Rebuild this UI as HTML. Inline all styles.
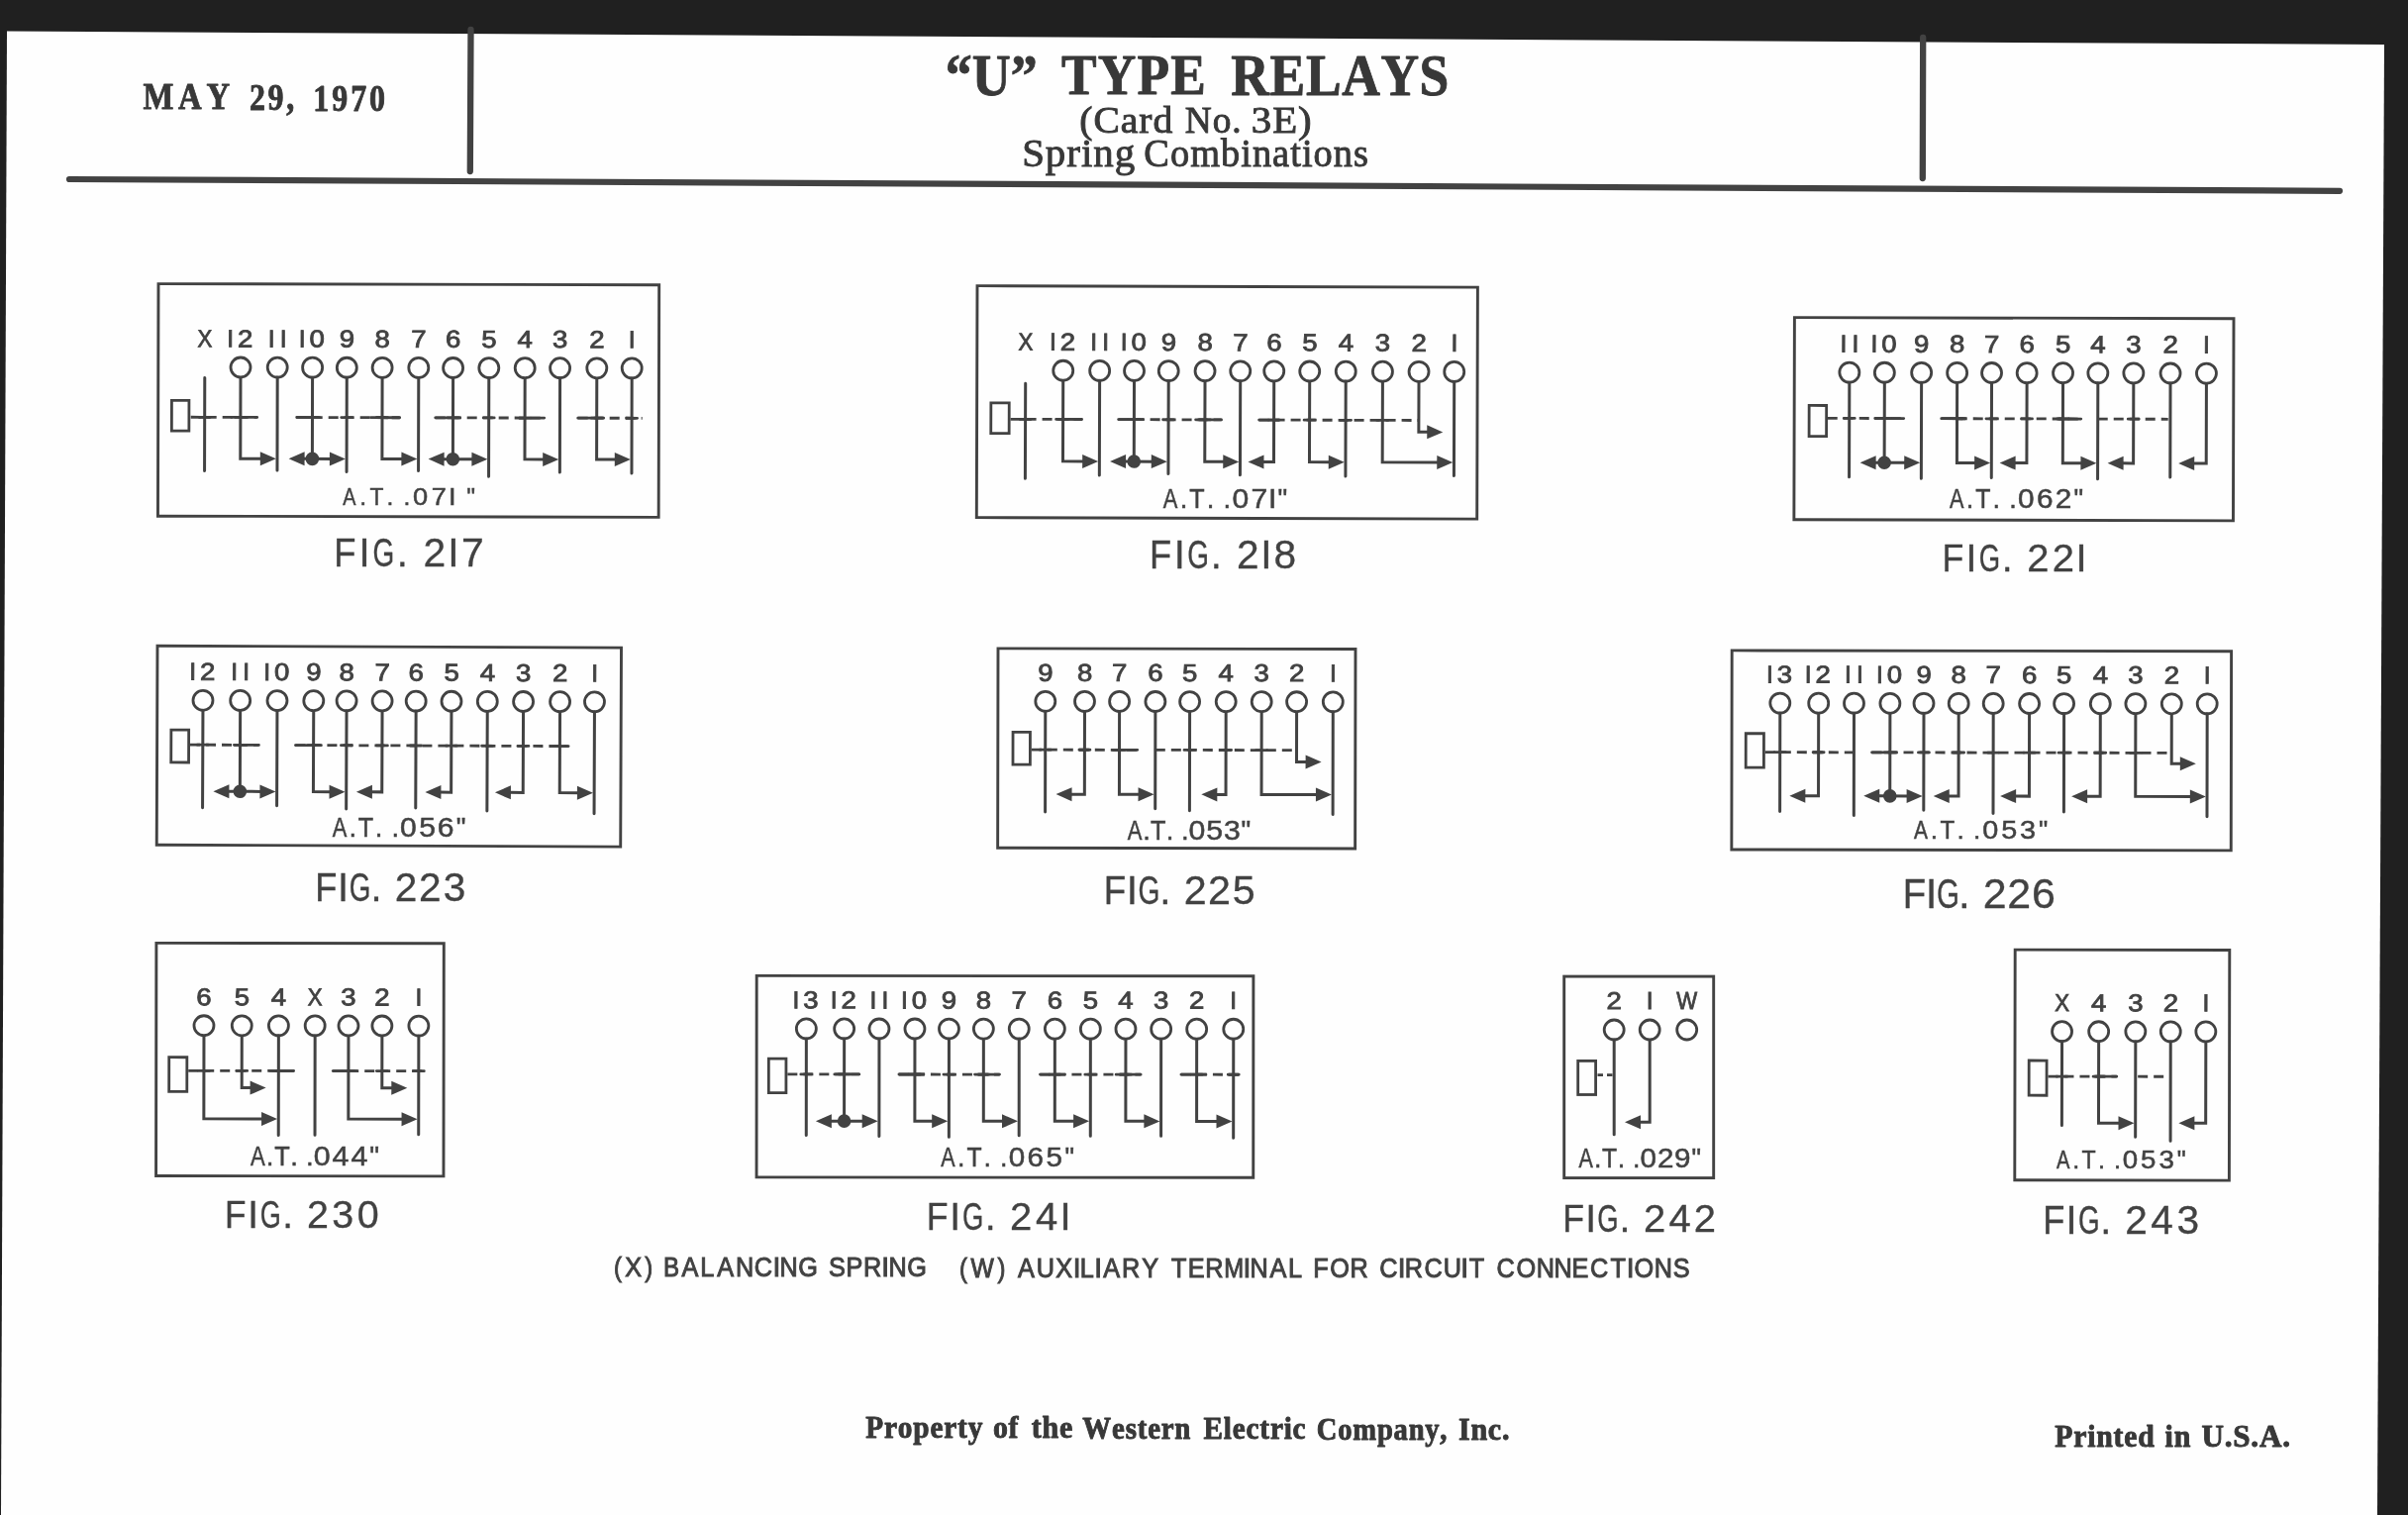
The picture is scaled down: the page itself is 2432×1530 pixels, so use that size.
<!DOCTYPE html>
<html><head><meta charset="utf-8"><title>U Type Relays Card 3E</title>
<style>html,body{margin:0;padding:0;background:#1e1e1e;width:2432px;height:1530px;overflow:hidden}svg{display:block}#pg{width:2432px;height:1530px;will-change:transform}</style>
</head><body><div id="pg">
<svg width="2432" height="1530" viewBox="0 0 2432 1530">
<rect x="0" y="0" width="2432" height="1530" fill="#202020"/>
<polygon points="7,31.5 2408,45 2401,1530 1,1530" fill="#fefefe"/>
<g stroke="#424242" fill="none">
<path d="M70 181 L2363 192.8" stroke-width="6.2" stroke-linecap="round"/>
<path d="M475.5 30 L474.8 173" stroke-width="6.3" stroke-linecap="round"/>
<path d="M1942.2 38 L1941.8 180" stroke-width="6.3" stroke-linecap="round"/>
</g>
<text transform="translate(144.43,109.80) scale(0.8500,1)" x="-0.0 42.0 75.4" y="0" font-family="Liberation Serif" font-weight="bold" font-size="38.47" fill="#383838" stroke="#383838" stroke-width="0.9" stroke-linejoin="round">MAY</text>
<text transform="translate(251.94,111.20) scale(0.8500,1)" x="-0.0 21.9 43.9" y="0" font-family="Liberation Serif" font-weight="bold" font-size="37.56" fill="#383838" stroke="#383838" stroke-width="0.9" stroke-linejoin="round">29,</text>
<text transform="translate(316.35,112.20) scale(0.8500,1)" x="0.0 22.2 44.5 66.7" y="0" font-family="Liberation Serif" font-weight="bold" font-size="37.56" fill="#383838" stroke="#383838" stroke-width="0.9" stroke-linejoin="round">1970</text>
<text transform="translate(954.74,95.60) scale(0.9200,1)" x="0.0 29.4 71.8" y="0" font-family="Liberation Serif" font-weight="bold" font-size="58.63" fill="#383838" stroke="#383838" stroke-width="0.9" stroke-linejoin="round">“U”</text>
<text transform="translate(1072.00,95.40) scale(0.9200,1)" x="-0.0 39.9 83.1 119.8" y="0" font-family="Liberation Serif" font-weight="bold" font-size="58.02" fill="#383838" stroke="#383838" stroke-width="0.9" stroke-linejoin="round">TYPE</text>
<text transform="translate(1243.36,96.00) scale(0.9200,1)" x="-0.0 42.6 82.1 121.5 164.2 206.8" y="0" font-family="Liberation Serif" font-weight="bold" font-size="58.17" fill="#383838" stroke="#383838" stroke-width="0.9" stroke-linejoin="round">RELAYS</text>
<text transform="translate(1090.22,133.50) scale(1.0651,1)" x="-0.0 13.3 39.0 56.4 69.7" y="0" font-family="Liberation Serif" font-weight="normal" font-size="37.10" fill="#383838" stroke="#383838" stroke-width="0.9">(Card</text>
<text transform="translate(1196.67,133.50) scale(1.0061,1)" x="0.0 27.8 47.3" y="0" font-family="Liberation Serif" font-weight="normal" font-size="37.10" fill="#383838" stroke="#383838" stroke-width="0.9">No.</text>
<text transform="translate(1263.76,133.50) scale(1.1014,1)" x="-0.0 19.5 43.0" y="0" font-family="Liberation Serif" font-weight="normal" font-size="37.10" fill="#383838" stroke="#383838" stroke-width="0.9">3E)</text>
<text transform="translate(1032.14,168.20) scale(1.0273,1)" x="0.0 23.1 44.0 58.3 70.3 91.2" y="0" font-family="Liberation Serif" font-weight="normal" font-size="39.85" fill="#383838" stroke="#383838" stroke-width="0.9">Spring</text>
<text transform="translate(1155.36,168.20) scale(0.9639,1)" x="-0.0 27.6 48.6 80.6 101.6 113.7 134.6 153.4 165.5 177.6 198.6 219.5" y="0" font-family="Liberation Serif" font-weight="normal" font-size="39.85" fill="#383838" stroke="#383838" stroke-width="0.9">Combinations</text>
<g transform="rotate(0.13 160 286.6)" stroke="#424242" fill="none">
<rect x="160" y="286.6" width="505.7" height="234.6" stroke-width="2.9" fill="none"/>
<rect x="173.7" y="404.4" width="17.5" height="30.6" stroke-width="2.8" fill="none"/>
<line x1="193" y1="421.2" x2="260" y2="421.2" stroke-width="2.8" stroke-dasharray="10 6"/>
<line x1="234" y1="421.2" x2="260" y2="421.2" stroke-width="2.8" stroke-linecap="round"/>
<line x1="201.5" y1="421.2" x2="212.5" y2="421.2" stroke-width="2.8" stroke-linecap="round"/>
<line x1="237.7" y1="421.2" x2="248.7" y2="421.2" stroke-width="2.8" stroke-linecap="round"/>
<line x1="300" y1="421.2" x2="404" y2="421.2" stroke-width="2.8" stroke-dasharray="10 6"/>
<line x1="300" y1="421.2" x2="323" y2="421.2" stroke-width="2.8" stroke-linecap="round"/>
<line x1="375" y1="421.2" x2="404" y2="421.2" stroke-width="2.8" stroke-linecap="round"/>
<line x1="310.3" y1="421.2" x2="321.3" y2="421.2" stroke-width="2.8" stroke-linecap="round"/>
<line x1="345" y1="421.2" x2="356" y2="421.2" stroke-width="2.8" stroke-linecap="round"/>
<line x1="380.8" y1="421.2" x2="391.8" y2="421.2" stroke-width="2.8" stroke-linecap="round"/>
<line x1="440" y1="421.2" x2="550" y2="421.2" stroke-width="2.8" stroke-dasharray="10 6"/>
<line x1="440" y1="421.2" x2="465" y2="421.2" stroke-width="2.8" stroke-linecap="round"/>
<line x1="525" y1="421.2" x2="550" y2="421.2" stroke-width="2.8" stroke-linecap="round"/>
<line x1="452.3" y1="421.2" x2="463.3" y2="421.2" stroke-width="2.8" stroke-linecap="round"/>
<line x1="488.5" y1="421.2" x2="499.5" y2="421.2" stroke-width="2.8" stroke-linecap="round"/>
<line x1="524.9" y1="421.2" x2="535.9" y2="421.2" stroke-width="2.8" stroke-linecap="round"/>
<line x1="584" y1="421.2" x2="649" y2="421.2" stroke-width="2.8" stroke-dasharray="10 6"/>
<line x1="584" y1="421.2" x2="610" y2="421.2" stroke-width="2.8" stroke-linecap="round"/>
<line x1="597.5" y1="421.2" x2="608.5" y2="421.2" stroke-width="2.8" stroke-linecap="round"/>
<line x1="632.9" y1="421.2" x2="643.9" y2="421.2" stroke-width="2.8" stroke-linecap="round"/>
<text transform="translate(207.0,350.2) scale(0.9,1)" text-anchor="middle" font-family="Liberation Sans" font-size="24.6" fill="#424242" stroke="#424242" stroke-width="0.85">X</text>
<line x1="207" y1="381.5" x2="207" y2="475.5" stroke-width="3.0" stroke-linecap="round"/>
<line x1="202" y1="421.2" x2="212" y2="421.2" stroke-width="2.8" stroke-linecap="round"/>
<text transform="translate(232.7,350.2) scale(1.0,1)" text-anchor="middle" font-family="Liberation Sans" font-size="24.6" fill="#424242" stroke="#424242" stroke-width="0.85">I</text>
<text transform="translate(247.7,350.2) scale(1.12,1)" text-anchor="middle" font-family="Liberation Sans" font-size="24.6" fill="#424242" stroke="#424242" stroke-width="0.85">2</text>
<circle cx="243.2" cy="370.8" r="10.0" stroke-width="2.8"/>
<path d="M243.2 380.8 V463 H265.4" stroke-width="3.0" fill="none" stroke-linejoin="miter"/>
<path d="M279.2 463 L263.2 456 L263.2 470 Z" fill="#424242" stroke="none"/>
<text transform="translate(274.4,350.2) scale(1.0,1)" text-anchor="middle" font-family="Liberation Sans" font-size="24.6" fill="#424242" stroke="#424242" stroke-width="0.85">I</text>
<text transform="translate(286.4,350.2) scale(1.0,1)" text-anchor="middle" font-family="Liberation Sans" font-size="24.6" fill="#424242" stroke="#424242" stroke-width="0.85">I</text>
<circle cx="280.4" cy="370.8" r="10.0" stroke-width="2.8"/>
<line x1="280.4" y1="380.8" x2="280.4" y2="474.7" stroke-width="3.0" stroke-linecap="round"/>
<text transform="translate(305.3,350.2) scale(1.0,1)" text-anchor="middle" font-family="Liberation Sans" font-size="24.6" fill="#424242" stroke="#424242" stroke-width="0.85">I</text>
<text transform="translate(320.3,350.2) scale(1.12,1)" text-anchor="middle" font-family="Liberation Sans" font-size="24.6" fill="#424242" stroke="#424242" stroke-width="0.85">0</text>
<circle cx="315.8" cy="370.8" r="10.0" stroke-width="2.8"/>
<line x1="315.8" y1="380.8" x2="315.8" y2="463" stroke-width="3.0" stroke-linecap="round"/>
<line x1="307" y1="463" x2="335.5" y2="463" stroke-width="3.0" stroke-linecap="round"/>
<path d="M292 463 L308 456 L308 470 Z" fill="#424242" stroke="none"/>
<path d="M349.3 463 L333.3 456 L333.3 470 Z" fill="#424242" stroke="none"/>
<circle cx="315.8" cy="463" r="6.8" fill="#424242" stroke="none"/>
<text transform="translate(350.5,350.2) scale(1.12,1)" text-anchor="middle" font-family="Liberation Sans" font-size="24.6" fill="#424242" stroke="#424242" stroke-width="0.85">9</text>
<circle cx="350.5" cy="370.8" r="10.0" stroke-width="2.8"/>
<line x1="350.5" y1="380.8" x2="350.5" y2="476" stroke-width="3.0" stroke-linecap="round"/>
<text transform="translate(386.3,350.2) scale(1.12,1)" text-anchor="middle" font-family="Liberation Sans" font-size="24.6" fill="#424242" stroke="#424242" stroke-width="0.85">8</text>
<circle cx="386.3" cy="370.8" r="10.0" stroke-width="2.8"/>
<path d="M386.3 380.8 V463 H408" stroke-width="3.0" fill="none" stroke-linejoin="miter"/>
<path d="M421.8 463 L405.8 456 L405.8 470 Z" fill="#424242" stroke="none"/>
<text transform="translate(423.0,350.2) scale(1.12,1)" text-anchor="middle" font-family="Liberation Sans" font-size="24.6" fill="#424242" stroke="#424242" stroke-width="0.85">7</text>
<circle cx="423" cy="370.8" r="10.0" stroke-width="2.8"/>
<line x1="423" y1="380.8" x2="423" y2="475" stroke-width="3.0" stroke-linecap="round"/>
<text transform="translate(457.8,350.2) scale(1.12,1)" text-anchor="middle" font-family="Liberation Sans" font-size="24.6" fill="#424242" stroke="#424242" stroke-width="0.85">6</text>
<circle cx="457.8" cy="370.8" r="10.0" stroke-width="2.8"/>
<line x1="457.8" y1="380.8" x2="457.8" y2="463" stroke-width="3.0" stroke-linecap="round"/>
<line x1="448" y1="463" x2="479" y2="463" stroke-width="3.0" stroke-linecap="round"/>
<path d="M433 463 L449 456 L449 470 Z" fill="#424242" stroke="none"/>
<path d="M492.8 463 L476.8 456 L476.8 470 Z" fill="#424242" stroke="none"/>
<circle cx="457.8" cy="463" r="6.8" fill="#424242" stroke="none"/>
<text transform="translate(494.0,350.2) scale(1.12,1)" text-anchor="middle" font-family="Liberation Sans" font-size="24.6" fill="#424242" stroke="#424242" stroke-width="0.85">5</text>
<circle cx="494" cy="370.8" r="10.0" stroke-width="2.8"/>
<line x1="494" y1="380.8" x2="494" y2="480.5" stroke-width="3.0" stroke-linecap="round"/>
<text transform="translate(530.4,350.2) scale(1.12,1)" text-anchor="middle" font-family="Liberation Sans" font-size="24.6" fill="#424242" stroke="#424242" stroke-width="0.85">4</text>
<circle cx="530.4" cy="370.8" r="10.0" stroke-width="2.8"/>
<path d="M530.4 380.8 V463 H550.8" stroke-width="3.0" fill="none" stroke-linejoin="miter"/>
<path d="M564.6 463 L548.6 456 L548.6 470 Z" fill="#424242" stroke="none"/>
<text transform="translate(565.8,350.2) scale(1.12,1)" text-anchor="middle" font-family="Liberation Sans" font-size="24.6" fill="#424242" stroke="#424242" stroke-width="0.85">3</text>
<circle cx="565.8" cy="370.8" r="10.0" stroke-width="2.8"/>
<line x1="565.8" y1="380.8" x2="565.8" y2="476" stroke-width="3.0" stroke-linecap="round"/>
<text transform="translate(603.0,350.2) scale(1.12,1)" text-anchor="middle" font-family="Liberation Sans" font-size="24.6" fill="#424242" stroke="#424242" stroke-width="0.85">2</text>
<circle cx="603" cy="370.8" r="10.0" stroke-width="2.8"/>
<path d="M603 380.8 V463 H623.4" stroke-width="3.0" fill="none" stroke-linejoin="miter"/>
<path d="M637.2 463 L621.2 456 L621.2 470 Z" fill="#424242" stroke="none"/>
<text transform="translate(638.4,350.2) scale(1.0,1)" text-anchor="middle" font-family="Liberation Sans" font-size="24.6" fill="#424242" stroke="#424242" stroke-width="0.85">I</text>
<circle cx="638.4" cy="370.8" r="10.0" stroke-width="2.8"/>
<line x1="638.4" y1="380.8" x2="638.4" y2="477" stroke-width="3.0" stroke-linecap="round"/>
</g>
<g font-family="Liberation Sans" font-weight="normal" font-size="24.73" fill="#424242" stroke="#424242" stroke-width="0.5">
<text transform="translate(346.35,510.20) scale(0.800,1)">A</text>
<text transform="translate(363.28,510.20) scale(1.000,1)">.</text>
<text transform="translate(373.41,510.20) scale(0.920,1)">T</text>
<text transform="translate(390.56,510.20) scale(1.000,1)">.</text>
<text transform="translate(407.38,510.20) scale(1.000,1)">.</text>
<text transform="translate(416.93,510.20) scale(1.100,1)">0</text>
<text transform="translate(435.65,510.20) scale(1.100,1)">7</text>
<text transform="translate(452.88,510.20) scale(1.100,1)">I</text>
<text transform="translate(471.27,510.20) scale(1.000,1)">"</text>
</g>
<g font-family="Liberation Sans" font-weight="normal" font-size="40.00" fill="#424242" stroke="#424242" stroke-width="0.3">
<text transform="translate(337.30,572.00) scale(0.910,1)">F</text>
<text transform="translate(362.43,572.00) scale(1.000,1)">I</text>
<text transform="translate(376.51,572.00) scale(0.700,1)">G</text>
<text transform="translate(400.66,572.00) scale(1.000,1)">.</text>
<text transform="translate(427.40,572.00) scale(1.020,1)">2</text>
<text transform="translate(452.31,572.00) scale(1.020,1)">I</text>
<text transform="translate(465.90,572.00) scale(1.020,1)">7</text>
</g>
<g transform="rotate(0.17 987 288.6)" stroke="#424242" fill="none">
<rect x="987" y="288.6" width="505.4" height="234" stroke-width="2.9" fill="none"/>
<rect x="1001.2" y="406.8" width="18.4" height="30.8" stroke-width="2.8" fill="none"/>
<line x1="1021" y1="423.2" x2="1093" y2="423.2" stroke-width="2.8" stroke-dasharray="10 6"/>
<line x1="1067" y1="423.2" x2="1093" y2="423.2" stroke-width="2.8" stroke-linecap="round"/>
<line x1="1030.5" y1="423.2" x2="1041.5" y2="423.2" stroke-width="2.8" stroke-linecap="round"/>
<line x1="1068.5" y1="423.2" x2="1079.5" y2="423.2" stroke-width="2.8" stroke-linecap="round"/>
<line x1="1130" y1="423.2" x2="1234" y2="423.2" stroke-width="2.8" stroke-dasharray="10 6"/>
<line x1="1130" y1="423.2" x2="1155" y2="423.2" stroke-width="2.8" stroke-linecap="round"/>
<line x1="1208" y1="423.2" x2="1234" y2="423.2" stroke-width="2.8" stroke-linecap="round"/>
<line x1="1140.3" y1="423.2" x2="1151.3" y2="423.2" stroke-width="2.8" stroke-linecap="round"/>
<line x1="1175" y1="423.2" x2="1186" y2="423.2" stroke-width="2.8" stroke-linecap="round"/>
<line x1="1211.8" y1="423.2" x2="1222.8" y2="423.2" stroke-width="2.8" stroke-linecap="round"/>
<line x1="1272" y1="423.2" x2="1433" y2="423.2" stroke-width="2.8" stroke-dasharray="10 6"/>
<line x1="1272" y1="423.2" x2="1292" y2="423.2" stroke-width="2.8" stroke-linecap="round"/>
<line x1="1281.5" y1="423.2" x2="1292.5" y2="423.2" stroke-width="2.8" stroke-linecap="round"/>
<line x1="1317.5" y1="423.2" x2="1328.5" y2="423.2" stroke-width="2.8" stroke-linecap="round"/>
<line x1="1354" y1="423.2" x2="1365" y2="423.2" stroke-width="2.8" stroke-linecap="round"/>
<line x1="1391.2" y1="423.2" x2="1402.2" y2="423.2" stroke-width="2.8" stroke-linecap="round"/>
<text transform="translate(1036.0,353.4) scale(0.9,1)" text-anchor="middle" font-family="Liberation Sans" font-size="24.6" fill="#424242" stroke="#424242" stroke-width="0.85">X</text>
<line x1="1036" y1="387" x2="1036" y2="483" stroke-width="3.0" stroke-linecap="round"/>
<line x1="1031" y1="423.2" x2="1041" y2="423.2" stroke-width="2.8" stroke-linecap="round"/>
<text transform="translate(1063.5,353.4) scale(1.0,1)" text-anchor="middle" font-family="Liberation Sans" font-size="24.6" fill="#424242" stroke="#424242" stroke-width="0.85">I</text>
<text transform="translate(1078.5,353.4) scale(1.12,1)" text-anchor="middle" font-family="Liberation Sans" font-size="24.6" fill="#424242" stroke="#424242" stroke-width="0.85">2</text>
<circle cx="1074" cy="374" r="10.0" stroke-width="2.8"/>
<path d="M1074 384 V465.6 H1095.9" stroke-width="3.0" fill="none" stroke-linejoin="miter"/>
<path d="M1109.7 465.6 L1093.7 458.6 L1093.7 472.6 Z" fill="#424242" stroke="none"/>
<text transform="translate(1104.9,353.4) scale(1.0,1)" text-anchor="middle" font-family="Liberation Sans" font-size="24.6" fill="#424242" stroke="#424242" stroke-width="0.85">I</text>
<text transform="translate(1116.9,353.4) scale(1.0,1)" text-anchor="middle" font-family="Liberation Sans" font-size="24.6" fill="#424242" stroke="#424242" stroke-width="0.85">I</text>
<circle cx="1110.9" cy="374" r="10.0" stroke-width="2.8"/>
<line x1="1110.9" y1="384" x2="1110.9" y2="479.7" stroke-width="3.0" stroke-linecap="round"/>
<text transform="translate(1135.3,353.4) scale(1.0,1)" text-anchor="middle" font-family="Liberation Sans" font-size="24.6" fill="#424242" stroke="#424242" stroke-width="0.85">I</text>
<text transform="translate(1150.3,353.4) scale(1.12,1)" text-anchor="middle" font-family="Liberation Sans" font-size="24.6" fill="#424242" stroke="#424242" stroke-width="0.85">0</text>
<circle cx="1145.8" cy="374" r="10.0" stroke-width="2.8"/>
<line x1="1145.8" y1="384" x2="1145.8" y2="465.6" stroke-width="3.0" stroke-linecap="round"/>
<line x1="1136.6" y1="465.6" x2="1165.5" y2="465.6" stroke-width="3.0" stroke-linecap="round"/>
<path d="M1121.6 465.6 L1137.6 458.6 L1137.6 472.6 Z" fill="#424242" stroke="none"/>
<path d="M1179.3 465.6 L1163.3 458.6 L1163.3 472.6 Z" fill="#424242" stroke="none"/>
<circle cx="1145.8" cy="465.6" r="6.8" fill="#424242" stroke="none"/>
<text transform="translate(1180.5,353.4) scale(1.12,1)" text-anchor="middle" font-family="Liberation Sans" font-size="24.6" fill="#424242" stroke="#424242" stroke-width="0.85">9</text>
<circle cx="1180.5" cy="374" r="10.0" stroke-width="2.8"/>
<line x1="1180.5" y1="384" x2="1180.5" y2="478" stroke-width="3.0" stroke-linecap="round"/>
<text transform="translate(1217.3,353.4) scale(1.12,1)" text-anchor="middle" font-family="Liberation Sans" font-size="24.6" fill="#424242" stroke="#424242" stroke-width="0.85">8</text>
<circle cx="1217.3" cy="374" r="10.0" stroke-width="2.8"/>
<path d="M1217.3 384 V465.6 H1238" stroke-width="3.0" fill="none" stroke-linejoin="miter"/>
<path d="M1251.8 465.6 L1235.8 458.6 L1235.8 472.6 Z" fill="#424242" stroke="none"/>
<text transform="translate(1253.0,353.4) scale(1.12,1)" text-anchor="middle" font-family="Liberation Sans" font-size="24.6" fill="#424242" stroke="#424242" stroke-width="0.85">7</text>
<circle cx="1253" cy="374" r="10.0" stroke-width="2.8"/>
<line x1="1253" y1="384" x2="1253" y2="479" stroke-width="3.0" stroke-linecap="round"/>
<text transform="translate(1287.0,353.4) scale(1.12,1)" text-anchor="middle" font-family="Liberation Sans" font-size="24.6" fill="#424242" stroke="#424242" stroke-width="0.85">6</text>
<circle cx="1287" cy="374" r="10.0" stroke-width="2.8"/>
<path d="M1287 384 V465.6 H1276" stroke-width="3.0" fill="none" stroke-linejoin="miter"/>
<path d="M1261 465.6 L1277 458.6 L1277 472.6 Z" fill="#424242" stroke="none"/>
<text transform="translate(1323.0,353.4) scale(1.12,1)" text-anchor="middle" font-family="Liberation Sans" font-size="24.6" fill="#424242" stroke="#424242" stroke-width="0.85">5</text>
<circle cx="1323" cy="374" r="10.0" stroke-width="2.8"/>
<path d="M1323 384 V465.6 H1344.5" stroke-width="3.0" fill="none" stroke-linejoin="miter"/>
<path d="M1358.3 465.6 L1342.3 458.6 L1342.3 472.6 Z" fill="#424242" stroke="none"/>
<text transform="translate(1359.5,353.4) scale(1.12,1)" text-anchor="middle" font-family="Liberation Sans" font-size="24.6" fill="#424242" stroke="#424242" stroke-width="0.85">4</text>
<circle cx="1359.5" cy="374" r="10.0" stroke-width="2.8"/>
<line x1="1359.5" y1="384" x2="1359.5" y2="480" stroke-width="3.0" stroke-linecap="round"/>
<text transform="translate(1396.7,353.4) scale(1.12,1)" text-anchor="middle" font-family="Liberation Sans" font-size="24.6" fill="#424242" stroke="#424242" stroke-width="0.85">3</text>
<circle cx="1396.7" cy="374" r="10.0" stroke-width="2.8"/>
<path d="M1396.7 384 V465.6 H1454" stroke-width="3.0" fill="none" stroke-linejoin="miter"/>
<path d="M1467.8 465.6 L1451.8 458.6 L1451.8 472.6 Z" fill="#424242" stroke="none"/>
<text transform="translate(1433.3,353.4) scale(1.12,1)" text-anchor="middle" font-family="Liberation Sans" font-size="24.6" fill="#424242" stroke="#424242" stroke-width="0.85">2</text>
<circle cx="1433.3" cy="374" r="10.0" stroke-width="2.8"/>
<path d="M1433.3 384 V435 H1442.7" stroke-width="3.0" fill="none" stroke-linejoin="miter"/>
<path d="M1457.7 435 L1441.7 428 L1441.7 442 Z" fill="#424242" stroke="none"/>
<text transform="translate(1469.0,353.4) scale(1.0,1)" text-anchor="middle" font-family="Liberation Sans" font-size="24.6" fill="#424242" stroke="#424242" stroke-width="0.85">I</text>
<circle cx="1469" cy="374" r="10.0" stroke-width="2.8"/>
<line x1="1469" y1="384" x2="1469" y2="479" stroke-width="3.0" stroke-linecap="round"/>
</g>
<g font-family="Liberation Sans" font-weight="normal" font-size="27.35" fill="#424242" stroke="#424242" stroke-width="0.5">
<text transform="translate(1174.65,513.30) scale(0.800,1)">A</text>
<text transform="translate(1191.74,513.30) scale(1.000,1)">.</text>
<text transform="translate(1201.31,513.30) scale(0.920,1)">T</text>
<text transform="translate(1218.64,513.30) scale(1.000,1)">.</text>
<text transform="translate(1235.62,513.30) scale(1.000,1)">.</text>
<text transform="translate(1244.55,513.30) scale(1.100,1)">0</text>
<text transform="translate(1263.62,513.30) scale(1.100,1)">7</text>
<text transform="translate(1281.04,513.30) scale(1.100,1)">I</text>
<text transform="translate(1290.45,513.30) scale(1.000,1)">"</text>
</g>
<g font-family="Liberation Sans" font-weight="normal" font-size="39.85" fill="#424242" stroke="#424242" stroke-width="0.3">
<text transform="translate(1161.11,574.40) scale(0.910,1)">F</text>
<text transform="translate(1185.65,574.40) scale(1.000,1)">I</text>
<text transform="translate(1199.18,574.40) scale(0.700,1)">G</text>
<text transform="translate(1222.75,574.40) scale(1.000,1)">.</text>
<text transform="translate(1248.89,574.40) scale(1.020,1)">2</text>
<text transform="translate(1273.22,574.40) scale(1.020,1)">I</text>
<text transform="translate(1286.57,574.40) scale(1.020,1)">8</text>
</g>
<g transform="rotate(0.15 1812.4 320.6)" stroke="#424242" fill="none">
<rect x="1812.4" y="320.6" width="443.6" height="204.1" stroke-width="2.9" fill="none"/>
<rect x="1827.4" y="409.4" width="17.5" height="31.2" stroke-width="2.8" fill="none"/>
<line x1="1846" y1="422.3" x2="1923" y2="422.3" stroke-width="2.8" stroke-dasharray="10 6"/>
<line x1="1894" y1="422.3" x2="1923" y2="422.3" stroke-width="2.8" stroke-linecap="round"/>
<line x1="1862.5" y1="422.3" x2="1873.5" y2="422.3" stroke-width="2.8" stroke-linecap="round"/>
<line x1="1898" y1="422.3" x2="1909" y2="422.3" stroke-width="2.8" stroke-linecap="round"/>
<line x1="1961" y1="422.3" x2="2102" y2="422.3" stroke-width="2.8" stroke-dasharray="10 6"/>
<line x1="1961" y1="422.3" x2="1985" y2="422.3" stroke-width="2.8" stroke-linecap="round"/>
<line x1="2080" y1="422.3" x2="2102" y2="422.3" stroke-width="2.8" stroke-linecap="round"/>
<line x1="1971.3" y1="422.3" x2="1982.3" y2="422.3" stroke-width="2.8" stroke-linecap="round"/>
<line x1="2006.2" y1="422.3" x2="2017.2" y2="422.3" stroke-width="2.8" stroke-linecap="round"/>
<line x1="2041.8" y1="422.3" x2="2052.8" y2="422.3" stroke-width="2.8" stroke-linecap="round"/>
<line x1="2078.2" y1="422.3" x2="2089.2" y2="422.3" stroke-width="2.8" stroke-linecap="round"/>
<line x1="2119" y1="422.3" x2="2190" y2="422.3" stroke-width="2.8" stroke-dasharray="10 6"/>
<line x1="2149.5" y1="422.3" x2="2160.5" y2="422.3" stroke-width="2.8" stroke-linecap="round"/>
<text transform="translate(1862.0,355.4) scale(1.0,1)" text-anchor="middle" font-family="Liberation Sans" font-size="24.6" fill="#424242" stroke="#424242" stroke-width="0.85">I</text>
<text transform="translate(1874.0,355.4) scale(1.0,1)" text-anchor="middle" font-family="Liberation Sans" font-size="24.6" fill="#424242" stroke="#424242" stroke-width="0.85">I</text>
<circle cx="1868" cy="376" r="10.0" stroke-width="2.8"/>
<line x1="1868" y1="386" x2="1868" y2="481.5" stroke-width="3.0" stroke-linecap="round"/>
<text transform="translate(1893.0,355.4) scale(1.0,1)" text-anchor="middle" font-family="Liberation Sans" font-size="24.6" fill="#424242" stroke="#424242" stroke-width="0.85">I</text>
<text transform="translate(1908.0,355.4) scale(1.12,1)" text-anchor="middle" font-family="Liberation Sans" font-size="24.6" fill="#424242" stroke="#424242" stroke-width="0.85">0</text>
<circle cx="1903.5" cy="376" r="10.0" stroke-width="2.8"/>
<line x1="1903.5" y1="386" x2="1903.5" y2="467" stroke-width="3.0" stroke-linecap="round"/>
<line x1="1894" y1="467" x2="1925.8" y2="467" stroke-width="3.0" stroke-linecap="round"/>
<path d="M1879 467 L1895 460 L1895 474 Z" fill="#424242" stroke="none"/>
<path d="M1939.6 467 L1923.6 460 L1923.6 474 Z" fill="#424242" stroke="none"/>
<circle cx="1903.5" cy="467" r="6.8" fill="#424242" stroke="none"/>
<text transform="translate(1940.8,355.4) scale(1.12,1)" text-anchor="middle" font-family="Liberation Sans" font-size="24.6" fill="#424242" stroke="#424242" stroke-width="0.85">9</text>
<circle cx="1940.8" cy="376" r="10.0" stroke-width="2.8"/>
<line x1="1940.8" y1="386" x2="1940.8" y2="483" stroke-width="3.0" stroke-linecap="round"/>
<text transform="translate(1976.8,355.4) scale(1.12,1)" text-anchor="middle" font-family="Liberation Sans" font-size="24.6" fill="#424242" stroke="#424242" stroke-width="0.85">8</text>
<circle cx="1976.8" cy="376" r="10.0" stroke-width="2.8"/>
<path d="M1976.8 386 V467 H1996.7" stroke-width="3.0" fill="none" stroke-linejoin="miter"/>
<path d="M2010.5 467 L1994.5 460 L1994.5 474 Z" fill="#424242" stroke="none"/>
<text transform="translate(2011.7,355.4) scale(1.12,1)" text-anchor="middle" font-family="Liberation Sans" font-size="24.6" fill="#424242" stroke="#424242" stroke-width="0.85">7</text>
<circle cx="2011.7" cy="376" r="10.0" stroke-width="2.8"/>
<line x1="2011.7" y1="386" x2="2011.7" y2="482" stroke-width="3.0" stroke-linecap="round"/>
<text transform="translate(2047.3,355.4) scale(1.12,1)" text-anchor="middle" font-family="Liberation Sans" font-size="24.6" fill="#424242" stroke="#424242" stroke-width="0.85">6</text>
<circle cx="2047.3" cy="376" r="10.0" stroke-width="2.8"/>
<path d="M2047.3 386 V467 H2035" stroke-width="3.0" fill="none" stroke-linejoin="miter"/>
<path d="M2020 467 L2036 460 L2036 474 Z" fill="#424242" stroke="none"/>
<text transform="translate(2083.7,355.4) scale(1.12,1)" text-anchor="middle" font-family="Liberation Sans" font-size="24.6" fill="#424242" stroke="#424242" stroke-width="0.85">5</text>
<circle cx="2083.7" cy="376" r="10.0" stroke-width="2.8"/>
<path d="M2083.7 386 V467 H2104" stroke-width="3.0" fill="none" stroke-linejoin="miter"/>
<path d="M2117.8 467 L2101.8 460 L2101.8 474 Z" fill="#424242" stroke="none"/>
<text transform="translate(2119.0,355.4) scale(1.12,1)" text-anchor="middle" font-family="Liberation Sans" font-size="24.6" fill="#424242" stroke="#424242" stroke-width="0.85">4</text>
<circle cx="2119" cy="376" r="10.0" stroke-width="2.8"/>
<line x1="2119" y1="386" x2="2119" y2="483" stroke-width="3.0" stroke-linecap="round"/>
<text transform="translate(2155.0,355.4) scale(1.12,1)" text-anchor="middle" font-family="Liberation Sans" font-size="24.6" fill="#424242" stroke="#424242" stroke-width="0.85">3</text>
<circle cx="2155" cy="376" r="10.0" stroke-width="2.8"/>
<path d="M2155 386 V467 H2144" stroke-width="3.0" fill="none" stroke-linejoin="miter"/>
<path d="M2129 467 L2145 460 L2145 474 Z" fill="#424242" stroke="none"/>
<text transform="translate(2192.2,355.4) scale(1.12,1)" text-anchor="middle" font-family="Liberation Sans" font-size="24.6" fill="#424242" stroke="#424242" stroke-width="0.85">2</text>
<circle cx="2192.2" cy="376" r="10.0" stroke-width="2.8"/>
<line x1="2192.2" y1="386" x2="2192.2" y2="481" stroke-width="3.0" stroke-linecap="round"/>
<text transform="translate(2228.6,355.4) scale(1.0,1)" text-anchor="middle" font-family="Liberation Sans" font-size="24.6" fill="#424242" stroke="#424242" stroke-width="0.85">I</text>
<circle cx="2228.6" cy="376" r="10.0" stroke-width="2.8"/>
<path d="M2228.6 386 V467 H2215.6" stroke-width="3.0" fill="none" stroke-linejoin="miter"/>
<path d="M2200.6 467 L2216.6 460 L2216.6 474 Z" fill="#424242" stroke="none"/>
</g>
<g font-family="Liberation Sans" font-weight="normal" font-size="27.05" fill="#424242" stroke="#424242" stroke-width="0.5">
<text transform="translate(1968.95,512.60) scale(0.800,1)">A</text>
<text transform="translate(1985.86,512.60) scale(1.000,1)">.</text>
<text transform="translate(1995.33,512.60) scale(0.920,1)">T</text>
<text transform="translate(2012.48,512.60) scale(1.000,1)">.</text>
<text transform="translate(2029.27,512.60) scale(1.000,1)">.</text>
<text transform="translate(2038.11,512.60) scale(1.100,1)">0</text>
<text transform="translate(2056.99,512.60) scale(1.100,1)">6</text>
<text transform="translate(2075.71,512.60) scale(1.100,1)">2</text>
<text transform="translate(2094.55,512.60) scale(1.000,1)">"</text>
</g>
<g font-family="Liberation Sans" font-weight="normal" font-size="39.27" fill="#424242" stroke="#424242" stroke-width="0.3">
<text transform="translate(1961.55,577.40) scale(0.910,1)">F</text>
<text transform="translate(1985.55,577.40) scale(1.000,1)">I</text>
<text transform="translate(1998.70,577.40) scale(0.700,1)">G</text>
<text transform="translate(2021.74,577.40) scale(1.000,1)">.</text>
<text transform="translate(2047.32,577.40) scale(1.020,1)">2</text>
<text transform="translate(2072.81,577.40) scale(1.020,1)">2</text>
<text transform="translate(2096.59,577.40) scale(1.020,1)">I</text>
</g>
<g transform="rotate(0.22 159 652.3)" stroke="#424242" fill="none">
<rect x="159" y="652.3" width="468.5" height="201" stroke-width="2.9" fill="none"/>
<rect x="173.2" y="737.1" width="17.8" height="32.8" stroke-width="2.8" fill="none"/>
<line x1="192.4" y1="752" x2="261.8" y2="752" stroke-width="2.8" stroke-dasharray="10 6"/>
<line x1="236.8" y1="752" x2="261.8" y2="752" stroke-width="2.8" stroke-linecap="round"/>
<line x1="199.7" y1="752" x2="210.7" y2="752" stroke-width="2.8" stroke-linecap="round"/>
<line x1="237.4" y1="752" x2="248.4" y2="752" stroke-width="2.8" stroke-linecap="round"/>
<line x1="298.8" y1="752" x2="574.5" y2="752" stroke-width="2.8" stroke-dasharray="10 6"/>
<line x1="298.8" y1="752" x2="324.8" y2="752" stroke-width="2.8" stroke-linecap="round"/>
<line x1="557.5" y1="752" x2="574.5" y2="752" stroke-width="2.8" stroke-linecap="round"/>
<line x1="311.5" y1="752" x2="322.5" y2="752" stroke-width="2.8" stroke-linecap="round"/>
<line x1="344.8" y1="752" x2="355.8" y2="752" stroke-width="2.8" stroke-linecap="round"/>
<line x1="380.8" y1="752" x2="391.8" y2="752" stroke-width="2.8" stroke-linecap="round"/>
<line x1="414.9" y1="752" x2="425.9" y2="752" stroke-width="2.8" stroke-linecap="round"/>
<line x1="450.7" y1="752" x2="461.7" y2="752" stroke-width="2.8" stroke-linecap="round"/>
<line x1="487" y1="752" x2="498" y2="752" stroke-width="2.8" stroke-linecap="round"/>
<line x1="523.3" y1="752" x2="534.3" y2="752" stroke-width="2.8" stroke-linecap="round"/>
<line x1="560.3" y1="752" x2="571.3" y2="752" stroke-width="2.8" stroke-linecap="round"/>
<text transform="translate(194.7,686.5) scale(1.0,1)" text-anchor="middle" font-family="Liberation Sans" font-size="24.6" fill="#424242" stroke="#424242" stroke-width="0.85">I</text>
<text transform="translate(209.7,686.5) scale(1.12,1)" text-anchor="middle" font-family="Liberation Sans" font-size="24.6" fill="#424242" stroke="#424242" stroke-width="0.85">2</text>
<circle cx="205.2" cy="707.1" r="10.0" stroke-width="2.8"/>
<line x1="205.2" y1="717.1" x2="205.2" y2="815.6" stroke-width="3.0" stroke-linecap="round"/>
<text transform="translate(236.9,686.5) scale(1.0,1)" text-anchor="middle" font-family="Liberation Sans" font-size="24.6" fill="#424242" stroke="#424242" stroke-width="0.85">I</text>
<text transform="translate(248.9,686.5) scale(1.0,1)" text-anchor="middle" font-family="Liberation Sans" font-size="24.6" fill="#424242" stroke="#424242" stroke-width="0.85">I</text>
<circle cx="242.9" cy="707.1" r="10.0" stroke-width="2.8"/>
<line x1="242.9" y1="717.1" x2="242.9" y2="799" stroke-width="3.0" stroke-linecap="round"/>
<line x1="231" y1="799" x2="265.2" y2="799" stroke-width="3.0" stroke-linecap="round"/>
<path d="M216 799 L232 792 L232 806 Z" fill="#424242" stroke="none"/>
<path d="M279 799 L263 792 L263 806 Z" fill="#424242" stroke="none"/>
<circle cx="242.9" cy="799" r="6.8" fill="#424242" stroke="none"/>
<text transform="translate(269.7,686.5) scale(1.0,1)" text-anchor="middle" font-family="Liberation Sans" font-size="24.6" fill="#424242" stroke="#424242" stroke-width="0.85">I</text>
<text transform="translate(284.7,686.5) scale(1.12,1)" text-anchor="middle" font-family="Liberation Sans" font-size="24.6" fill="#424242" stroke="#424242" stroke-width="0.85">0</text>
<circle cx="280.2" cy="707.1" r="10.0" stroke-width="2.8"/>
<line x1="280.2" y1="717.1" x2="280.2" y2="813.4" stroke-width="3.0" stroke-linecap="round"/>
<text transform="translate(317.0,686.5) scale(1.12,1)" text-anchor="middle" font-family="Liberation Sans" font-size="24.6" fill="#424242" stroke="#424242" stroke-width="0.85">9</text>
<circle cx="317" cy="707.1" r="10.0" stroke-width="2.8"/>
<path d="M317 717.1 V799 H335.3" stroke-width="3.0" fill="none" stroke-linejoin="miter"/>
<path d="M349.1 799 L333.1 792 L333.1 806 Z" fill="#424242" stroke="none"/>
<text transform="translate(350.3,686.5) scale(1.12,1)" text-anchor="middle" font-family="Liberation Sans" font-size="24.6" fill="#424242" stroke="#424242" stroke-width="0.85">8</text>
<circle cx="350.3" cy="707.1" r="10.0" stroke-width="2.8"/>
<line x1="350.3" y1="717.1" x2="350.3" y2="816.3" stroke-width="3.0" stroke-linecap="round"/>
<text transform="translate(386.3,686.5) scale(1.12,1)" text-anchor="middle" font-family="Liberation Sans" font-size="24.6" fill="#424242" stroke="#424242" stroke-width="0.85">7</text>
<circle cx="386.3" cy="707.1" r="10.0" stroke-width="2.8"/>
<path d="M386.3 717.1 V799 H375.5" stroke-width="3.0" fill="none" stroke-linejoin="miter"/>
<path d="M360.5 799 L376.5 792 L376.5 806 Z" fill="#424242" stroke="none"/>
<text transform="translate(420.4,686.5) scale(1.12,1)" text-anchor="middle" font-family="Liberation Sans" font-size="24.6" fill="#424242" stroke="#424242" stroke-width="0.85">6</text>
<circle cx="420.4" cy="707.1" r="10.0" stroke-width="2.8"/>
<line x1="420.4" y1="717.1" x2="420.4" y2="814.9" stroke-width="3.0" stroke-linecap="round"/>
<text transform="translate(456.2,686.5) scale(1.12,1)" text-anchor="middle" font-family="Liberation Sans" font-size="24.6" fill="#424242" stroke="#424242" stroke-width="0.85">5</text>
<circle cx="456.2" cy="707.1" r="10.0" stroke-width="2.8"/>
<path d="M456.2 717.1 V799 H445" stroke-width="3.0" fill="none" stroke-linejoin="miter"/>
<path d="M430 799 L446 792 L446 806 Z" fill="#424242" stroke="none"/>
<text transform="translate(492.5,686.5) scale(1.12,1)" text-anchor="middle" font-family="Liberation Sans" font-size="24.6" fill="#424242" stroke="#424242" stroke-width="0.85">4</text>
<circle cx="492.5" cy="707.1" r="10.0" stroke-width="2.8"/>
<line x1="492.5" y1="717.1" x2="492.5" y2="817.8" stroke-width="3.0" stroke-linecap="round"/>
<text transform="translate(528.8,686.5) scale(1.12,1)" text-anchor="middle" font-family="Liberation Sans" font-size="24.6" fill="#424242" stroke="#424242" stroke-width="0.85">3</text>
<circle cx="528.8" cy="707.1" r="10.0" stroke-width="2.8"/>
<path d="M528.8 717.1 V799 H515.5" stroke-width="3.0" fill="none" stroke-linejoin="miter"/>
<path d="M500.5 799 L516.5 792 L516.5 806 Z" fill="#424242" stroke="none"/>
<text transform="translate(565.8,686.5) scale(1.12,1)" text-anchor="middle" font-family="Liberation Sans" font-size="24.6" fill="#424242" stroke="#424242" stroke-width="0.85">2</text>
<circle cx="565.8" cy="707.1" r="10.0" stroke-width="2.8"/>
<path d="M565.8 717.1 V799 H585.7" stroke-width="3.0" fill="none" stroke-linejoin="miter"/>
<path d="M599.5 799 L583.5 792 L583.5 806 Z" fill="#424242" stroke="none"/>
<text transform="translate(600.7,686.5) scale(1.0,1)" text-anchor="middle" font-family="Liberation Sans" font-size="24.6" fill="#424242" stroke="#424242" stroke-width="0.85">I</text>
<circle cx="600.7" cy="707.1" r="10.0" stroke-width="2.8"/>
<line x1="600.7" y1="717.1" x2="600.7" y2="820" stroke-width="3.0" stroke-linecap="round"/>
</g>
<g font-family="Liberation Sans" font-weight="normal" font-size="27.35" fill="#424242" stroke="#424242" stroke-width="0.5">
<text transform="translate(335.75,845.30) scale(0.800,1)">A</text>
<text transform="translate(352.53,845.30) scale(1.000,1)">.</text>
<text transform="translate(361.78,845.30) scale(0.920,1)">T</text>
<text transform="translate(378.79,845.30) scale(1.000,1)">.</text>
<text transform="translate(395.45,845.30) scale(1.000,1)">.</text>
<text transform="translate(404.07,845.30) scale(1.100,1)">0</text>
<text transform="translate(423.13,845.30) scale(1.100,1)">5</text>
<text transform="translate(441.81,845.30) scale(1.100,1)">6</text>
<text transform="translate(460.75,845.30) scale(1.000,1)">"</text>
</g>
<g font-family="Liberation Sans" font-weight="normal" font-size="39.85" fill="#424242" stroke="#424242" stroke-width="0.3">
<text transform="translate(318.21,910.30) scale(0.910,1)">F</text>
<text transform="translate(340.94,910.30) scale(1.000,1)">I</text>
<text transform="translate(352.67,910.30) scale(0.700,1)">G</text>
<text transform="translate(374.43,910.30) scale(1.000,1)">.</text>
<text transform="translate(398.77,910.30) scale(1.020,1)">2</text>
<text transform="translate(423.01,910.30) scale(1.020,1)">2</text>
<text transform="translate(447.77,910.30) scale(1.020,1)">3</text>
</g>
<g transform="rotate(0.1 1008 654.9)" stroke="#424242" fill="none">
<rect x="1008" y="654.9" width="361" height="201.4" stroke-width="2.9" fill="none"/>
<rect x="1023.2" y="739.4" width="17.4" height="32.7" stroke-width="2.8" fill="none"/>
<line x1="1042" y1="757.1" x2="1148.9" y2="757.1" stroke-width="2.8" stroke-dasharray="10 6"/>
<line x1="1123.9" y1="757.1" x2="1148.9" y2="757.1" stroke-width="2.8" stroke-linecap="round"/>
<line x1="1050.4" y1="757.1" x2="1061.4" y2="757.1" stroke-width="2.8" stroke-linecap="round"/>
<line x1="1090.1" y1="757.1" x2="1101.1" y2="757.1" stroke-width="2.8" stroke-linecap="round"/>
<line x1="1125.2" y1="757.1" x2="1136.2" y2="757.1" stroke-width="2.8" stroke-linecap="round"/>
<line x1="1167" y1="757.1" x2="1309" y2="757.1" stroke-width="2.8" stroke-dasharray="10 6"/>
<line x1="1196.2" y1="757.1" x2="1207.2" y2="757.1" stroke-width="2.8" stroke-linecap="round"/>
<line x1="1232.8" y1="757.1" x2="1243.8" y2="757.1" stroke-width="2.8" stroke-linecap="round"/>
<line x1="1268.8" y1="757.1" x2="1279.8" y2="757.1" stroke-width="2.8" stroke-linecap="round"/>
<text transform="translate(1055.9,687.6) scale(1.12,1)" text-anchor="middle" font-family="Liberation Sans" font-size="24.6" fill="#424242" stroke="#424242" stroke-width="0.85">9</text>
<circle cx="1055.9" cy="708.2" r="10.0" stroke-width="2.8"/>
<line x1="1055.9" y1="718.2" x2="1055.9" y2="820" stroke-width="3.0" stroke-linecap="round"/>
<text transform="translate(1095.6,687.6) scale(1.12,1)" text-anchor="middle" font-family="Liberation Sans" font-size="24.6" fill="#424242" stroke="#424242" stroke-width="0.85">8</text>
<circle cx="1095.6" cy="708.2" r="10.0" stroke-width="2.8"/>
<path d="M1095.6 718.2 V802 H1081.8" stroke-width="3.0" fill="none" stroke-linejoin="miter"/>
<path d="M1066.8 802 L1082.8 795 L1082.8 809 Z" fill="#424242" stroke="none"/>
<text transform="translate(1130.7,687.6) scale(1.12,1)" text-anchor="middle" font-family="Liberation Sans" font-size="24.6" fill="#424242" stroke="#424242" stroke-width="0.85">7</text>
<circle cx="1130.7" cy="708.2" r="10.0" stroke-width="2.8"/>
<path d="M1130.7 718.2 V802 H1152" stroke-width="3.0" fill="none" stroke-linejoin="miter"/>
<path d="M1165.8 802 L1149.8 795 L1149.8 809 Z" fill="#424242" stroke="none"/>
<text transform="translate(1167.0,687.6) scale(1.12,1)" text-anchor="middle" font-family="Liberation Sans" font-size="24.6" fill="#424242" stroke="#424242" stroke-width="0.85">6</text>
<circle cx="1167" cy="708.2" r="10.0" stroke-width="2.8"/>
<line x1="1167" y1="718.2" x2="1167" y2="816.4" stroke-width="3.0" stroke-linecap="round"/>
<text transform="translate(1201.7,687.6) scale(1.12,1)" text-anchor="middle" font-family="Liberation Sans" font-size="24.6" fill="#424242" stroke="#424242" stroke-width="0.85">5</text>
<circle cx="1201.7" cy="708.2" r="10.0" stroke-width="2.8"/>
<line x1="1201.7" y1="718.2" x2="1201.7" y2="818.5" stroke-width="3.0" stroke-linecap="round"/>
<text transform="translate(1238.3,687.6) scale(1.12,1)" text-anchor="middle" font-family="Liberation Sans" font-size="24.6" fill="#424242" stroke="#424242" stroke-width="0.85">4</text>
<circle cx="1238.3" cy="708.2" r="10.0" stroke-width="2.8"/>
<path d="M1238.3 718.2 V802 H1228.6" stroke-width="3.0" fill="none" stroke-linejoin="miter"/>
<path d="M1213.6 802 L1229.6 795 L1229.6 809 Z" fill="#424242" stroke="none"/>
<text transform="translate(1274.3,687.6) scale(1.12,1)" text-anchor="middle" font-family="Liberation Sans" font-size="24.6" fill="#424242" stroke="#424242" stroke-width="0.85">3</text>
<circle cx="1274.3" cy="708.2" r="10.0" stroke-width="2.8"/>
<path d="M1274.3 718.2 V802 H1331.4" stroke-width="3.0" fill="none" stroke-linejoin="miter"/>
<path d="M1345.2 802 L1329.2 795 L1329.2 809 Z" fill="#424242" stroke="none"/>
<text transform="translate(1309.7,687.6) scale(1.12,1)" text-anchor="middle" font-family="Liberation Sans" font-size="24.6" fill="#424242" stroke="#424242" stroke-width="0.85">2</text>
<circle cx="1309.7" cy="708.2" r="10.0" stroke-width="2.8"/>
<path d="M1309.7 718.2 V769 H1319.8" stroke-width="3.0" fill="none" stroke-linejoin="miter"/>
<path d="M1334.8 769 L1318.8 762 L1318.8 776 Z" fill="#424242" stroke="none"/>
<text transform="translate(1346.4,687.6) scale(1.0,1)" text-anchor="middle" font-family="Liberation Sans" font-size="24.6" fill="#424242" stroke="#424242" stroke-width="0.85">I</text>
<circle cx="1346.4" cy="708.2" r="10.0" stroke-width="2.8"/>
<line x1="1346.4" y1="718.2" x2="1346.4" y2="822" stroke-width="3.0" stroke-linecap="round"/>
</g>
<g font-family="Liberation Sans" font-weight="normal" font-size="27.49" fill="#424242" stroke="#424242" stroke-width="0.5">
<text transform="translate(1138.65,847.60) scale(0.800,1)">A</text>
<text transform="translate(1154.13,847.60) scale(1.000,1)">.</text>
<text transform="translate(1162.05,847.60) scale(0.920,1)">T</text>
<text transform="translate(1177.76,847.60) scale(1.000,1)">.</text>
<text transform="translate(1193.12,847.60) scale(1.000,1)">.</text>
<text transform="translate(1200.40,847.60) scale(1.100,1)">0</text>
<text transform="translate(1218.17,847.60) scale(1.100,1)">5</text>
<text transform="translate(1235.95,847.60) scale(1.100,1)">3</text>
<text transform="translate(1253.61,847.60) scale(1.000,1)">"</text>
</g>
<g font-family="Liberation Sans" font-weight="normal" font-size="40.44" fill="#424242" stroke="#424242" stroke-width="0.3">
<text transform="translate(1114.86,913.20) scale(0.910,1)">F</text>
<text transform="translate(1137.71,913.20) scale(1.000,1)">I</text>
<text transform="translate(1149.38,913.20) scale(0.700,1)">G</text>
<text transform="translate(1171.23,913.20) scale(1.000,1)">.</text>
<text transform="translate(1195.70,913.20) scale(1.020,1)">2</text>
<text transform="translate(1220.07,913.20) scale(1.020,1)">2</text>
<text transform="translate(1244.86,913.20) scale(1.020,1)">5</text>
</g>
<g transform="rotate(0.1 1749.2 656.9)" stroke="#424242" fill="none">
<rect x="1749.2" y="656.9" width="504.4" height="201.1" stroke-width="2.9" fill="none"/>
<rect x="1763.4" y="740.7" width="18.2" height="34.3" stroke-width="2.8" fill="none"/>
<line x1="1783" y1="759.6" x2="1872.6" y2="759.6" stroke-width="2.8" stroke-dasharray="10 6"/>
<line x1="1792.4" y1="759.6" x2="1803.4" y2="759.6" stroke-width="2.8" stroke-linecap="round"/>
<line x1="1831.3" y1="759.6" x2="1842.3" y2="759.6" stroke-width="2.8" stroke-linecap="round"/>
<line x1="1890.7" y1="759.6" x2="2193" y2="759.6" stroke-width="2.8" stroke-dasharray="10 6"/>
<line x1="1890.7" y1="759.6" x2="1915.7" y2="759.6" stroke-width="2.8" stroke-linecap="round"/>
<line x1="1903.5" y1="759.6" x2="1914.5" y2="759.6" stroke-width="2.8" stroke-linecap="round"/>
<line x1="1937.6" y1="759.6" x2="1948.6" y2="759.6" stroke-width="2.8" stroke-linecap="round"/>
<line x1="1972.8" y1="759.6" x2="1983.8" y2="759.6" stroke-width="2.8" stroke-linecap="round"/>
<line x1="2007.8" y1="759.6" x2="2018.8" y2="759.6" stroke-width="2.8" stroke-linecap="round"/>
<line x1="2044.2" y1="759.6" x2="2055.2" y2="759.6" stroke-width="2.8" stroke-linecap="round"/>
<line x1="2079.2" y1="759.6" x2="2090.2" y2="759.6" stroke-width="2.8" stroke-linecap="round"/>
<line x1="2115.9" y1="759.6" x2="2126.9" y2="759.6" stroke-width="2.8" stroke-linecap="round"/>
<line x1="2151.5" y1="759.6" x2="2162.5" y2="759.6" stroke-width="2.8" stroke-linecap="round"/>
<text transform="translate(1787.4,689.4) scale(1.0,1)" text-anchor="middle" font-family="Liberation Sans" font-size="24.6" fill="#424242" stroke="#424242" stroke-width="0.85">I</text>
<text transform="translate(1802.4,689.4) scale(1.12,1)" text-anchor="middle" font-family="Liberation Sans" font-size="24.6" fill="#424242" stroke="#424242" stroke-width="0.85">3</text>
<circle cx="1797.9" cy="710" r="10.0" stroke-width="2.8"/>
<line x1="1797.9" y1="720" x2="1797.9" y2="819.5" stroke-width="3.0" stroke-linecap="round"/>
<text transform="translate(1826.3,689.4) scale(1.0,1)" text-anchor="middle" font-family="Liberation Sans" font-size="24.6" fill="#424242" stroke="#424242" stroke-width="0.85">I</text>
<text transform="translate(1841.3,689.4) scale(1.12,1)" text-anchor="middle" font-family="Liberation Sans" font-size="24.6" fill="#424242" stroke="#424242" stroke-width="0.85">2</text>
<circle cx="1836.8" cy="710" r="10.0" stroke-width="2.8"/>
<path d="M1836.8 720 V803.6 H1822.6" stroke-width="3.0" fill="none" stroke-linejoin="miter"/>
<path d="M1807.6 803.6 L1823.6 796.6 L1823.6 810.6 Z" fill="#424242" stroke="none"/>
<text transform="translate(1866.6,689.4) scale(1.0,1)" text-anchor="middle" font-family="Liberation Sans" font-size="24.6" fill="#424242" stroke="#424242" stroke-width="0.85">I</text>
<text transform="translate(1878.6,689.4) scale(1.0,1)" text-anchor="middle" font-family="Liberation Sans" font-size="24.6" fill="#424242" stroke="#424242" stroke-width="0.85">I</text>
<circle cx="1872.6" cy="710" r="10.0" stroke-width="2.8"/>
<line x1="1872.6" y1="720" x2="1872.6" y2="823.2" stroke-width="3.0" stroke-linecap="round"/>
<text transform="translate(1898.5,689.4) scale(1.0,1)" text-anchor="middle" font-family="Liberation Sans" font-size="24.6" fill="#424242" stroke="#424242" stroke-width="0.85">I</text>
<text transform="translate(1913.5,689.4) scale(1.12,1)" text-anchor="middle" font-family="Liberation Sans" font-size="24.6" fill="#424242" stroke="#424242" stroke-width="0.85">0</text>
<circle cx="1909" cy="710" r="10.0" stroke-width="2.8"/>
<line x1="1909" y1="720" x2="1909" y2="803.6" stroke-width="3.0" stroke-linecap="round"/>
<line x1="1897.5" y1="803.6" x2="1928.1" y2="803.6" stroke-width="3.0" stroke-linecap="round"/>
<path d="M1882.5 803.6 L1898.5 796.6 L1898.5 810.6 Z" fill="#424242" stroke="none"/>
<path d="M1941.9 803.6 L1925.9 796.6 L1925.9 810.6 Z" fill="#424242" stroke="none"/>
<circle cx="1909" cy="803.6" r="6.8" fill="#424242" stroke="none"/>
<text transform="translate(1943.1,689.4) scale(1.12,1)" text-anchor="middle" font-family="Liberation Sans" font-size="24.6" fill="#424242" stroke="#424242" stroke-width="0.85">9</text>
<circle cx="1943.1" cy="710" r="10.0" stroke-width="2.8"/>
<line x1="1943.1" y1="720" x2="1943.1" y2="818" stroke-width="3.0" stroke-linecap="round"/>
<text transform="translate(1978.3,689.4) scale(1.12,1)" text-anchor="middle" font-family="Liberation Sans" font-size="24.6" fill="#424242" stroke="#424242" stroke-width="0.85">8</text>
<circle cx="1978.3" cy="710" r="10.0" stroke-width="2.8"/>
<path d="M1978.3 720 V803.6 H1968" stroke-width="3.0" fill="none" stroke-linejoin="miter"/>
<path d="M1953 803.6 L1969 796.6 L1969 810.6 Z" fill="#424242" stroke="none"/>
<text transform="translate(2013.3,689.4) scale(1.12,1)" text-anchor="middle" font-family="Liberation Sans" font-size="24.6" fill="#424242" stroke="#424242" stroke-width="0.85">7</text>
<circle cx="2013.3" cy="710" r="10.0" stroke-width="2.8"/>
<line x1="2013.3" y1="720" x2="2013.3" y2="821" stroke-width="3.0" stroke-linecap="round"/>
<text transform="translate(2049.7,689.4) scale(1.12,1)" text-anchor="middle" font-family="Liberation Sans" font-size="24.6" fill="#424242" stroke="#424242" stroke-width="0.85">6</text>
<circle cx="2049.7" cy="710" r="10.0" stroke-width="2.8"/>
<path d="M2049.7 720 V803.6 H2035.4" stroke-width="3.0" fill="none" stroke-linejoin="miter"/>
<path d="M2020.4 803.6 L2036.4 796.6 L2036.4 810.6 Z" fill="#424242" stroke="none"/>
<text transform="translate(2084.7,689.4) scale(1.12,1)" text-anchor="middle" font-family="Liberation Sans" font-size="24.6" fill="#424242" stroke="#424242" stroke-width="0.85">5</text>
<circle cx="2084.7" cy="710" r="10.0" stroke-width="2.8"/>
<line x1="2084.7" y1="720" x2="2084.7" y2="819.5" stroke-width="3.0" stroke-linecap="round"/>
<text transform="translate(2121.4,689.4) scale(1.12,1)" text-anchor="middle" font-family="Liberation Sans" font-size="24.6" fill="#424242" stroke="#424242" stroke-width="0.85">4</text>
<circle cx="2121.4" cy="710" r="10.0" stroke-width="2.8"/>
<path d="M2121.4 720 V803.6 H2107.4" stroke-width="3.0" fill="none" stroke-linejoin="miter"/>
<path d="M2092.4 803.6 L2108.4 796.6 L2108.4 810.6 Z" fill="#424242" stroke="none"/>
<text transform="translate(2157.0,689.4) scale(1.12,1)" text-anchor="middle" font-family="Liberation Sans" font-size="24.6" fill="#424242" stroke="#424242" stroke-width="0.85">3</text>
<circle cx="2157" cy="710" r="10.0" stroke-width="2.8"/>
<path d="M2157 720 V803.6 H2214.3" stroke-width="3.0" fill="none" stroke-linejoin="miter"/>
<path d="M2228.1 803.6 L2212.1 796.6 L2212.1 810.6 Z" fill="#424242" stroke="none"/>
<text transform="translate(2193.4,689.4) scale(1.12,1)" text-anchor="middle" font-family="Liberation Sans" font-size="24.6" fill="#424242" stroke="#424242" stroke-width="0.85">2</text>
<circle cx="2193.4" cy="710" r="10.0" stroke-width="2.8"/>
<path d="M2193.4 720 V770.5 H2203" stroke-width="3.0" fill="none" stroke-linejoin="miter"/>
<path d="M2218 770.5 L2202 763.5 L2202 777.5 Z" fill="#424242" stroke="none"/>
<text transform="translate(2229.3,689.4) scale(1.0,1)" text-anchor="middle" font-family="Liberation Sans" font-size="24.6" fill="#424242" stroke="#424242" stroke-width="0.85">I</text>
<circle cx="2229.3" cy="710" r="10.0" stroke-width="2.8"/>
<line x1="2229.3" y1="720" x2="2229.3" y2="824" stroke-width="3.0" stroke-linecap="round"/>
</g>
<g font-family="Liberation Sans" font-weight="normal" font-size="26.18" fill="#424242" stroke="#424242" stroke-width="0.5">
<text transform="translate(1932.95,847.00) scale(0.800,1)">A</text>
<text transform="translate(1949.77,847.00) scale(1.000,1)">.</text>
<text transform="translate(1959.38,847.00) scale(0.920,1)">T</text>
<text transform="translate(1976.42,847.00) scale(1.000,1)">.</text>
<text transform="translate(1993.12,847.00) scale(1.000,1)">.</text>
<text transform="translate(2002.13,847.00) scale(1.100,1)">0</text>
<text transform="translate(2021.13,847.00) scale(1.100,1)">5</text>
<text transform="translate(2040.12,847.00) scale(1.100,1)">3</text>
<text transform="translate(2059.02,847.00) scale(1.000,1)">"</text>
</g>
<g font-family="Liberation Sans" font-weight="normal" font-size="42.18" fill="#424242" stroke="#424242" stroke-width="0.3">
<text transform="translate(1921.73,917.30) scale(0.910,1)">F</text>
<text transform="translate(1944.73,917.30) scale(1.000,1)">I</text>
<text transform="translate(1956.08,917.30) scale(0.700,1)">G</text>
<text transform="translate(1978.05,917.30) scale(1.000,1)">.</text>
<text transform="translate(2002.75,917.30) scale(1.020,1)">2</text>
<text transform="translate(2027.35,917.30) scale(1.020,1)">2</text>
<text transform="translate(2051.95,917.30) scale(1.020,1)">6</text>
</g>
<g transform="rotate(0.08 157.9 952.4)" stroke="#424242" fill="none">
<rect x="157.9" y="952.4" width="290.4" height="235.1" stroke-width="2.9" fill="none"/>
<rect x="170.9" y="1067.7" width="18.1" height="34.6" stroke-width="2.8" fill="none"/>
<line x1="190.4" y1="1081.3" x2="296.8" y2="1081.3" stroke-width="2.8" stroke-dasharray="10 6"/>
<line x1="272.8" y1="1081.3" x2="296.8" y2="1081.3" stroke-width="2.8" stroke-linecap="round"/>
<line x1="200.6" y1="1081.3" x2="211.6" y2="1081.3" stroke-width="2.8" stroke-linecap="round"/>
<line x1="238.9" y1="1081.3" x2="249.9" y2="1081.3" stroke-width="2.8" stroke-linecap="round"/>
<line x1="276" y1="1081.3" x2="287" y2="1081.3" stroke-width="2.8" stroke-linecap="round"/>
<line x1="336.4" y1="1081.3" x2="430.5" y2="1081.3" stroke-width="2.8" stroke-dasharray="10 6"/>
<line x1="336.4" y1="1081.3" x2="360.4" y2="1081.3" stroke-width="2.8" stroke-linecap="round"/>
<line x1="346.6" y1="1081.3" x2="357.6" y2="1081.3" stroke-width="2.8" stroke-linecap="round"/>
<line x1="380.5" y1="1081.3" x2="391.5" y2="1081.3" stroke-width="2.8" stroke-linecap="round"/>
<line x1="417.5" y1="1081.3" x2="428.5" y2="1081.3" stroke-width="2.8" stroke-linecap="round"/>
<text transform="translate(206.1,1015.1) scale(1.12,1)" text-anchor="middle" font-family="Liberation Sans" font-size="24.6" fill="#424242" stroke="#424242" stroke-width="0.85">6</text>
<circle cx="206.1" cy="1035.7" r="10.0" stroke-width="2.8"/>
<path d="M206.1 1045.7 V1129.8 H266.5" stroke-width="3.0" fill="none" stroke-linejoin="miter"/>
<path d="M280.3 1129.8 L264.3 1122.8 L264.3 1136.8 Z" fill="#424242" stroke="none"/>
<text transform="translate(244.4,1015.1) scale(1.12,1)" text-anchor="middle" font-family="Liberation Sans" font-size="24.6" fill="#424242" stroke="#424242" stroke-width="0.85">5</text>
<circle cx="244.4" cy="1035.7" r="10.0" stroke-width="2.8"/>
<path d="M244.4 1045.7 V1098.4 H253.8" stroke-width="3.0" fill="none" stroke-linejoin="miter"/>
<path d="M268.8 1098.4 L252.8 1091.4 L252.8 1105.4 Z" fill="#424242" stroke="none"/>
<text transform="translate(281.5,1015.1) scale(1.12,1)" text-anchor="middle" font-family="Liberation Sans" font-size="24.6" fill="#424242" stroke="#424242" stroke-width="0.85">4</text>
<circle cx="281.5" cy="1035.7" r="10.0" stroke-width="2.8"/>
<line x1="281.5" y1="1045.7" x2="281.5" y2="1146.3" stroke-width="3.0" stroke-linecap="round"/>
<text transform="translate(318.3,1015.1) scale(0.9,1)" text-anchor="middle" font-family="Liberation Sans" font-size="24.6" fill="#424242" stroke="#424242" stroke-width="0.85">X</text>
<circle cx="318.3" cy="1035.7" r="10.0" stroke-width="2.8"/>
<line x1="318.3" y1="1045.7" x2="318.3" y2="1146" stroke-width="3.0" stroke-linecap="round"/>
<text transform="translate(352.1,1015.1) scale(1.12,1)" text-anchor="middle" font-family="Liberation Sans" font-size="24.6" fill="#424242" stroke="#424242" stroke-width="0.85">3</text>
<circle cx="352.1" cy="1035.7" r="10.0" stroke-width="2.8"/>
<path d="M352.1 1045.7 V1129.8 H408" stroke-width="3.0" fill="none" stroke-linejoin="miter"/>
<path d="M421.8 1129.8 L405.8 1122.8 L405.8 1136.8 Z" fill="#424242" stroke="none"/>
<text transform="translate(386.0,1015.1) scale(1.12,1)" text-anchor="middle" font-family="Liberation Sans" font-size="24.6" fill="#424242" stroke="#424242" stroke-width="0.85">2</text>
<circle cx="386" cy="1035.7" r="10.0" stroke-width="2.8"/>
<path d="M386 1045.7 V1098.4 H396.5" stroke-width="3.0" fill="none" stroke-linejoin="miter"/>
<path d="M411.5 1098.4 L395.5 1091.4 L395.5 1105.4 Z" fill="#424242" stroke="none"/>
<text transform="translate(423.0,1015.1) scale(1.0,1)" text-anchor="middle" font-family="Liberation Sans" font-size="24.6" fill="#424242" stroke="#424242" stroke-width="0.85">I</text>
<circle cx="423" cy="1035.7" r="10.0" stroke-width="2.8"/>
<line x1="423" y1="1045.7" x2="423" y2="1145.5" stroke-width="3.0" stroke-linecap="round"/>
</g>
<g font-family="Liberation Sans" font-weight="normal" font-size="27.64" fill="#424242" stroke="#424242" stroke-width="0.5">
<text transform="translate(252.94,1176.80) scale(0.800,1)">A</text>
<text transform="translate(268.86,1176.80) scale(1.000,1)">.</text>
<text transform="translate(277.18,1176.80) scale(0.920,1)">T</text>
<text transform="translate(293.33,1176.80) scale(1.000,1)">.</text>
<text transform="translate(309.12,1176.80) scale(1.000,1)">.</text>
<text transform="translate(316.79,1176.80) scale(1.100,1)">0</text>
<text transform="translate(335.54,1176.80) scale(1.100,1)">4</text>
<text transform="translate(354.60,1176.80) scale(1.100,1)">4</text>
<text transform="translate(373.16,1176.80) scale(1.000,1)">"</text>
</g>
<g font-family="Liberation Sans" font-weight="normal" font-size="38.69" fill="#424242" stroke="#424242" stroke-width="0.3">
<text transform="translate(227.00,1240.30) scale(0.910,1)">F</text>
<text transform="translate(250.27,1240.30) scale(1.000,1)">I</text>
<text transform="translate(262.85,1240.30) scale(0.700,1)">G</text>
<text transform="translate(285.18,1240.30) scale(1.000,1)">.</text>
<text transform="translate(310.01,1240.30) scale(1.020,1)">2</text>
<text transform="translate(335.25,1240.30) scale(1.020,1)">3</text>
<text transform="translate(360.68,1240.30) scale(1.020,1)">0</text>
</g>
<g transform="rotate(0.04 764.2 985.4)" stroke="#424242" fill="none">
<rect x="764.2" y="985.4" width="501.7" height="203.5" stroke-width="2.9" fill="none"/>
<rect x="776.4" y="1069.2" width="17.6" height="34.4" stroke-width="2.8" fill="none"/>
<line x1="795.4" y1="1084.9" x2="867.9" y2="1084.9" stroke-width="2.8" stroke-dasharray="10 6"/>
<line x1="842.9" y1="1084.9" x2="867.9" y2="1084.9" stroke-width="2.8" stroke-linecap="round"/>
<line x1="808.9" y1="1084.9" x2="819.9" y2="1084.9" stroke-width="2.8" stroke-linecap="round"/>
<line x1="847.2" y1="1084.9" x2="858.2" y2="1084.9" stroke-width="2.8" stroke-linecap="round"/>
<line x1="908" y1="1084.9" x2="1009.6" y2="1084.9" stroke-width="2.8" stroke-dasharray="10 6"/>
<line x1="908" y1="1084.9" x2="933" y2="1084.9" stroke-width="2.8" stroke-linecap="round"/>
<line x1="984.6" y1="1084.9" x2="1009.6" y2="1084.9" stroke-width="2.8" stroke-linecap="round"/>
<line x1="918.5" y1="1084.9" x2="929.5" y2="1084.9" stroke-width="2.8" stroke-linecap="round"/>
<line x1="953" y1="1084.9" x2="964" y2="1084.9" stroke-width="2.8" stroke-linecap="round"/>
<line x1="987.9" y1="1084.9" x2="998.9" y2="1084.9" stroke-width="2.8" stroke-linecap="round"/>
<line x1="1050.5" y1="1084.9" x2="1152.2" y2="1084.9" stroke-width="2.8" stroke-dasharray="10 6"/>
<line x1="1050.5" y1="1084.9" x2="1075.5" y2="1084.9" stroke-width="2.8" stroke-linecap="round"/>
<line x1="1127.2" y1="1084.9" x2="1152.2" y2="1084.9" stroke-width="2.8" stroke-linecap="round"/>
<line x1="1059.9" y1="1084.9" x2="1070.9" y2="1084.9" stroke-width="2.8" stroke-linecap="round"/>
<line x1="1095.9" y1="1084.9" x2="1106.9" y2="1084.9" stroke-width="2.8" stroke-linecap="round"/>
<line x1="1131.5" y1="1084.9" x2="1142.5" y2="1084.9" stroke-width="2.8" stroke-linecap="round"/>
<line x1="1193" y1="1084.9" x2="1252.5" y2="1084.9" stroke-width="2.8" stroke-dasharray="10 6"/>
<line x1="1193" y1="1084.9" x2="1218" y2="1084.9" stroke-width="2.8" stroke-linecap="round"/>
<line x1="1203.2" y1="1084.9" x2="1214.2" y2="1084.9" stroke-width="2.8" stroke-linecap="round"/>
<line x1="1240.3" y1="1084.9" x2="1251.3" y2="1084.9" stroke-width="2.8" stroke-linecap="round"/>
<text transform="translate(803.9,1018.3) scale(1.0,1)" text-anchor="middle" font-family="Liberation Sans" font-size="24.6" fill="#424242" stroke="#424242" stroke-width="0.85">I</text>
<text transform="translate(818.9,1018.3) scale(1.12,1)" text-anchor="middle" font-family="Liberation Sans" font-size="24.6" fill="#424242" stroke="#424242" stroke-width="0.85">3</text>
<circle cx="814.4" cy="1038.9" r="10.0" stroke-width="2.8"/>
<line x1="814.4" y1="1048.9" x2="814.4" y2="1146.5" stroke-width="3.0" stroke-linecap="round"/>
<text transform="translate(842.2,1018.3) scale(1.0,1)" text-anchor="middle" font-family="Liberation Sans" font-size="24.6" fill="#424242" stroke="#424242" stroke-width="0.85">I</text>
<text transform="translate(857.2,1018.3) scale(1.12,1)" text-anchor="middle" font-family="Liberation Sans" font-size="24.6" fill="#424242" stroke="#424242" stroke-width="0.85">2</text>
<circle cx="852.7" cy="1038.9" r="10.0" stroke-width="2.8"/>
<line x1="852.7" y1="1048.9" x2="852.7" y2="1132.1" stroke-width="3.0" stroke-linecap="round"/>
<line x1="839" y1="1132.1" x2="873" y2="1132.1" stroke-width="3.0" stroke-linecap="round"/>
<path d="M824 1132.1 L840 1125.1 L840 1139.1 Z" fill="#424242" stroke="none"/>
<path d="M886.8 1132.1 L870.8 1125.1 L870.8 1139.1 Z" fill="#424242" stroke="none"/>
<circle cx="852.7" cy="1132.1" r="6.8" fill="#424242" stroke="none"/>
<text transform="translate(882.0,1018.3) scale(1.0,1)" text-anchor="middle" font-family="Liberation Sans" font-size="24.6" fill="#424242" stroke="#424242" stroke-width="0.85">I</text>
<text transform="translate(894.0,1018.3) scale(1.0,1)" text-anchor="middle" font-family="Liberation Sans" font-size="24.6" fill="#424242" stroke="#424242" stroke-width="0.85">I</text>
<circle cx="888" cy="1038.9" r="10.0" stroke-width="2.8"/>
<line x1="888" y1="1048.9" x2="888" y2="1147.3" stroke-width="3.0" stroke-linecap="round"/>
<text transform="translate(913.5,1018.3) scale(1.0,1)" text-anchor="middle" font-family="Liberation Sans" font-size="24.6" fill="#424242" stroke="#424242" stroke-width="0.85">I</text>
<text transform="translate(928.5,1018.3) scale(1.12,1)" text-anchor="middle" font-family="Liberation Sans" font-size="24.6" fill="#424242" stroke="#424242" stroke-width="0.85">0</text>
<circle cx="924" cy="1038.9" r="10.0" stroke-width="2.8"/>
<path d="M924 1048.9 V1132.1 H943.5" stroke-width="3.0" fill="none" stroke-linejoin="miter"/>
<path d="M957.3 1132.1 L941.3 1125.1 L941.3 1139.1 Z" fill="#424242" stroke="none"/>
<text transform="translate(958.5,1018.3) scale(1.12,1)" text-anchor="middle" font-family="Liberation Sans" font-size="24.6" fill="#424242" stroke="#424242" stroke-width="0.85">9</text>
<circle cx="958.5" cy="1038.9" r="10.0" stroke-width="2.8"/>
<line x1="958.5" y1="1048.9" x2="958.5" y2="1148" stroke-width="3.0" stroke-linecap="round"/>
<text transform="translate(993.4,1018.3) scale(1.12,1)" text-anchor="middle" font-family="Liberation Sans" font-size="24.6" fill="#424242" stroke="#424242" stroke-width="0.85">8</text>
<circle cx="993.4" cy="1038.9" r="10.0" stroke-width="2.8"/>
<path d="M993.4 1048.9 V1132.1 H1014.3" stroke-width="3.0" fill="none" stroke-linejoin="miter"/>
<path d="M1028.1 1132.1 L1012.1 1125.1 L1012.1 1139.1 Z" fill="#424242" stroke="none"/>
<text transform="translate(1029.3,1018.3) scale(1.12,1)" text-anchor="middle" font-family="Liberation Sans" font-size="24.6" fill="#424242" stroke="#424242" stroke-width="0.85">7</text>
<circle cx="1029.3" cy="1038.9" r="10.0" stroke-width="2.8"/>
<line x1="1029.3" y1="1048.9" x2="1029.3" y2="1146.5" stroke-width="3.0" stroke-linecap="round"/>
<text transform="translate(1065.4,1018.3) scale(1.12,1)" text-anchor="middle" font-family="Liberation Sans" font-size="24.6" fill="#424242" stroke="#424242" stroke-width="0.85">6</text>
<circle cx="1065.4" cy="1038.9" r="10.0" stroke-width="2.8"/>
<path d="M1065.4 1048.9 V1132.1 H1086.4" stroke-width="3.0" fill="none" stroke-linejoin="miter"/>
<path d="M1100.2 1132.1 L1084.2 1125.1 L1084.2 1139.1 Z" fill="#424242" stroke="none"/>
<text transform="translate(1101.4,1018.3) scale(1.12,1)" text-anchor="middle" font-family="Liberation Sans" font-size="24.6" fill="#424242" stroke="#424242" stroke-width="0.85">5</text>
<circle cx="1101.4" cy="1038.9" r="10.0" stroke-width="2.8"/>
<line x1="1101.4" y1="1048.9" x2="1101.4" y2="1147" stroke-width="3.0" stroke-linecap="round"/>
<text transform="translate(1137.0,1018.3) scale(1.12,1)" text-anchor="middle" font-family="Liberation Sans" font-size="24.6" fill="#424242" stroke="#424242" stroke-width="0.85">4</text>
<circle cx="1137" cy="1038.9" r="10.0" stroke-width="2.8"/>
<path d="M1137 1048.9 V1132.1 H1157.7" stroke-width="3.0" fill="none" stroke-linejoin="miter"/>
<path d="M1171.5 1132.1 L1155.5 1125.1 L1155.5 1139.1 Z" fill="#424242" stroke="none"/>
<text transform="translate(1172.7,1018.3) scale(1.12,1)" text-anchor="middle" font-family="Liberation Sans" font-size="24.6" fill="#424242" stroke="#424242" stroke-width="0.85">3</text>
<circle cx="1172.7" cy="1038.9" r="10.0" stroke-width="2.8"/>
<line x1="1172.7" y1="1048.9" x2="1172.7" y2="1147" stroke-width="3.0" stroke-linecap="round"/>
<text transform="translate(1208.7,1018.3) scale(1.12,1)" text-anchor="middle" font-family="Liberation Sans" font-size="24.6" fill="#424242" stroke="#424242" stroke-width="0.85">2</text>
<circle cx="1208.7" cy="1038.9" r="10.0" stroke-width="2.8"/>
<path d="M1208.7 1048.9 V1132.1 H1230.8" stroke-width="3.0" fill="none" stroke-linejoin="miter"/>
<path d="M1244.6 1132.1 L1228.6 1125.1 L1228.6 1139.1 Z" fill="#424242" stroke="none"/>
<text transform="translate(1245.8,1018.3) scale(1.0,1)" text-anchor="middle" font-family="Liberation Sans" font-size="24.6" fill="#424242" stroke="#424242" stroke-width="0.85">I</text>
<circle cx="1245.8" cy="1038.9" r="10.0" stroke-width="2.8"/>
<line x1="1245.8" y1="1048.9" x2="1245.8" y2="1148.8" stroke-width="3.0" stroke-linecap="round"/>
</g>
<g font-family="Liberation Sans" font-weight="normal" font-size="26.91" fill="#424242" stroke="#424242" stroke-width="0.5">
<text transform="translate(950.25,1177.70) scale(0.800,1)">A</text>
<text transform="translate(967.04,1177.70) scale(1.000,1)">.</text>
<text transform="translate(976.42,1177.70) scale(0.920,1)">T</text>
<text transform="translate(993.44,1177.70) scale(1.000,1)">.</text>
<text transform="translate(1010.11,1177.70) scale(1.000,1)">.</text>
<text transform="translate(1018.87,1177.70) scale(1.100,1)">0</text>
<text transform="translate(1037.61,1177.70) scale(1.100,1)">6</text>
<text transform="translate(1056.49,1177.70) scale(1.100,1)">5</text>
<text transform="translate(1075.49,1177.70) scale(1.000,1)">"</text>
</g>
<g font-family="Liberation Sans" font-weight="normal" font-size="39.27" fill="#424242" stroke="#424242" stroke-width="0.3">
<text transform="translate(935.75,1242.30) scale(0.910,1)">F</text>
<text transform="translate(959.35,1242.30) scale(1.000,1)">I</text>
<text transform="translate(972.10,1242.30) scale(0.700,1)">G</text>
<text transform="translate(994.74,1242.30) scale(1.000,1)">.</text>
<text transform="translate(1019.92,1242.30) scale(1.020,1)">2</text>
<text transform="translate(1046.10,1242.30) scale(1.020,1)">4</text>
<text transform="translate(1070.39,1242.30) scale(1.020,1)">I</text>
</g>
<g transform="rotate(0.0 1579.7 986.1)" stroke="#424242" fill="none">
<rect x="1579.7" y="986.1" width="151" height="203.5" stroke-width="2.9" fill="none"/>
<rect x="1593.7" y="1071.4" width="17.9" height="34.1" stroke-width="2.8" fill="none"/>
<line x1="1613.5" y1="1085.6" x2="1630.2" y2="1085.6" stroke-width="2.8" stroke-dasharray="5.5 4"/>
<text transform="translate(1630.2,1019.4) scale(1.12,1)" text-anchor="middle" font-family="Liberation Sans" font-size="24.6" fill="#424242" stroke="#424242" stroke-width="0.85">2</text>
<circle cx="1630.2" cy="1040" r="10.0" stroke-width="2.8"/>
<line x1="1630.2" y1="1050" x2="1630.2" y2="1145.8" stroke-width="3.0" stroke-linecap="round"/>
<text transform="translate(1666.2,1019.4) scale(1.0,1)" text-anchor="middle" font-family="Liberation Sans" font-size="24.6" fill="#424242" stroke="#424242" stroke-width="0.85">I</text>
<circle cx="1666.2" cy="1040" r="10.0" stroke-width="2.8"/>
<path d="M1666.2 1050 V1133.2 H1656" stroke-width="3.0" fill="none" stroke-linejoin="miter"/>
<path d="M1641 1133.2 L1657 1126.2 L1657 1140.2 Z" fill="#424242" stroke="none"/>
<text transform="translate(1703.7,1019.4) scale(0.9,1)" text-anchor="middle" font-family="Liberation Sans" font-size="24.6" fill="#424242" stroke="#424242" stroke-width="0.85">W</text>
<circle cx="1703.7" cy="1040" r="10.0" stroke-width="2.8"/>
</g>
<g font-family="Liberation Sans" font-weight="normal" font-size="26.91" fill="#424242" stroke="#424242" stroke-width="0.5">
<text transform="translate(1594.45,1179.20) scale(0.800,1)">A</text>
<text transform="translate(1609.92,1179.20) scale(1.000,1)">.</text>
<text transform="translate(1618.00,1179.20) scale(0.920,1)">T</text>
<text transform="translate(1633.70,1179.20) scale(1.000,1)">.</text>
<text transform="translate(1649.06,1179.20) scale(1.000,1)">.</text>
<text transform="translate(1656.51,1179.20) scale(1.100,1)">0</text>
<text transform="translate(1673.93,1179.20) scale(1.100,1)">2</text>
<text transform="translate(1691.05,1179.20) scale(1.100,1)">9</text>
<text transform="translate(1708.59,1179.20) scale(1.000,1)">"</text>
</g>
<g font-family="Liberation Sans" font-weight="normal" font-size="39.27" fill="#424242" stroke="#424242" stroke-width="0.3">
<text transform="translate(1578.25,1244.00) scale(0.910,1)">F</text>
<text transform="translate(1601.23,1244.00) scale(1.000,1)">I</text>
<text transform="translate(1613.36,1244.00) scale(0.700,1)">G</text>
<text transform="translate(1635.38,1244.00) scale(1.000,1)">.</text>
<text transform="translate(1659.94,1244.00) scale(1.020,1)">2</text>
<text transform="translate(1685.50,1244.00) scale(1.020,1)">4</text>
<text transform="translate(1710.87,1244.00) scale(1.020,1)">2</text>
</g>
<g transform="rotate(0.1 2035.2 959.1)" stroke="#424242" fill="none">
<rect x="2035.2" y="959.1" width="216.6" height="232.6" stroke-width="2.9" fill="none"/>
<rect x="2049.4" y="1071" width="17.9" height="35.2" stroke-width="2.8" fill="none"/>
<line x1="2068.7" y1="1087" x2="2138" y2="1087" stroke-width="2.8" stroke-dasharray="10 6"/>
<line x1="2116" y1="1087" x2="2138" y2="1087" stroke-width="2.8" stroke-linecap="round"/>
<line x1="2077.2" y1="1087" x2="2088.2" y2="1087" stroke-width="2.8" stroke-linecap="round"/>
<line x1="2114.3" y1="1087" x2="2125.3" y2="1087" stroke-width="2.8" stroke-linecap="round"/>
<line x1="2159.4" y1="1087" x2="2190.8" y2="1087" stroke-width="2.8" stroke-dasharray="10 6"/>
<text transform="translate(2082.7,1021.0) scale(0.9,1)" text-anchor="middle" font-family="Liberation Sans" font-size="24.6" fill="#424242" stroke="#424242" stroke-width="0.85">X</text>
<circle cx="2082.7" cy="1041.6" r="10.0" stroke-width="2.8"/>
<line x1="2082.7" y1="1051.6" x2="2082.7" y2="1136.5" stroke-width="3.0" stroke-linecap="round"/>
<text transform="translate(2119.8,1021.0) scale(1.12,1)" text-anchor="middle" font-family="Liberation Sans" font-size="24.6" fill="#424242" stroke="#424242" stroke-width="0.85">4</text>
<circle cx="2119.8" cy="1041.6" r="10.0" stroke-width="2.8"/>
<path d="M2119.8 1051.6 V1134 H2142" stroke-width="3.0" fill="none" stroke-linejoin="miter"/>
<path d="M2155.8 1134 L2139.8 1127 L2139.8 1141 Z" fill="#424242" stroke="none"/>
<text transform="translate(2157.0,1021.0) scale(1.12,1)" text-anchor="middle" font-family="Liberation Sans" font-size="24.6" fill="#424242" stroke="#424242" stroke-width="0.85">3</text>
<circle cx="2157" cy="1041.6" r="10.0" stroke-width="2.8"/>
<line x1="2157" y1="1051.6" x2="2157" y2="1148" stroke-width="3.0" stroke-linecap="round"/>
<text transform="translate(2192.4,1021.0) scale(1.12,1)" text-anchor="middle" font-family="Liberation Sans" font-size="24.6" fill="#424242" stroke="#424242" stroke-width="0.85">2</text>
<circle cx="2192.4" cy="1041.6" r="10.0" stroke-width="2.8"/>
<line x1="2192.4" y1="1051.6" x2="2192.4" y2="1152" stroke-width="3.0" stroke-linecap="round"/>
<text transform="translate(2228.0,1021.0) scale(1.0,1)" text-anchor="middle" font-family="Liberation Sans" font-size="24.6" fill="#424242" stroke="#424242" stroke-width="0.85">I</text>
<circle cx="2228" cy="1041.6" r="10.0" stroke-width="2.8"/>
<path d="M2228 1051.6 V1134 H2215.7" stroke-width="3.0" fill="none" stroke-linejoin="miter"/>
<path d="M2200.7 1134 L2216.7 1127 L2216.7 1141 Z" fill="#424242" stroke="none"/>
</g>
<g font-family="Liberation Sans" font-weight="normal" font-size="25.16" fill="#424242" stroke="#424242" stroke-width="0.5">
<text transform="translate(2076.95,1180.20) scale(0.800,1)">A</text>
<text transform="translate(2093.18,1180.20) scale(1.000,1)">.</text>
<text transform="translate(2102.48,1180.20) scale(0.920,1)">T</text>
<text transform="translate(2118.93,1180.20) scale(1.000,1)">.</text>
<text transform="translate(2135.04,1180.20) scale(1.000,1)">.</text>
<text transform="translate(2143.76,1180.20) scale(1.100,1)">0</text>
<text transform="translate(2162.09,1180.20) scale(1.100,1)">5</text>
<text transform="translate(2180.41,1180.20) scale(1.100,1)">3</text>
<text transform="translate(2198.64,1180.20) scale(1.000,1)">"</text>
</g>
<g font-family="Liberation Sans" font-weight="normal" font-size="39.85" fill="#424242" stroke="#424242" stroke-width="0.3">
<text transform="translate(2063.21,1245.70) scale(0.910,1)">F</text>
<text transform="translate(2086.57,1245.70) scale(1.000,1)">I</text>
<text transform="translate(2098.92,1245.70) scale(0.700,1)">G</text>
<text transform="translate(2121.31,1245.70) scale(1.000,1)">.</text>
<text transform="translate(2146.28,1245.70) scale(1.020,1)">2</text>
<text transform="translate(2172.27,1245.70) scale(1.020,1)">4</text>
<text transform="translate(2198.57,1245.70) scale(1.020,1)">3</text>
</g>
<g font-family="Liberation Sans" font-weight="normal" font-size="28.07" fill="#424242" stroke="#424242" stroke-width="1.0">
<text transform="translate(620.11,1288.80) scale(0.850,1)">(</text>
<text transform="translate(631.29,1288.80) scale(0.900,1)">X</text>
<text transform="translate(651.34,1288.80) scale(0.850,1)">)</text>
<text transform="translate(669.89,1288.80) scale(0.860,1)">B</text>
<text transform="translate(688.61,1288.80) scale(0.900,1)">A</text>
<text transform="translate(707.26,1288.80) scale(0.900,1)">L</text>
<text transform="translate(724.33,1288.80) scale(0.900,1)">A</text>
<text transform="translate(742.99,1288.80) scale(0.900,1)">N</text>
<text transform="translate(761.83,1288.80) scale(0.900,1)">C</text>
<text transform="translate(780.47,1288.80) scale(1.000,1)">I</text>
<text transform="translate(787.52,1288.80) scale(0.900,1)">N</text>
<text transform="translate(806.36,1288.80) scale(0.900,1)">G</text>
<text transform="translate(837.01,1288.80) scale(0.900,1)">S</text>
<text transform="translate(854.59,1288.80) scale(0.900,1)">P</text>
<text transform="translate(871.97,1288.80) scale(0.900,1)">R</text>
<text transform="translate(890.37,1288.80) scale(1.000,1)">I</text>
<text transform="translate(897.41,1288.80) scale(0.900,1)">N</text>
<text transform="translate(916.25,1288.80) scale(0.900,1)">G</text>
</g>
<g font-family="Liberation Sans" font-weight="normal" font-size="28.07" fill="#424242" stroke="#424242" stroke-width="1.0">
<text transform="translate(969.01,1289.60) scale(0.850,1)">(</text>
<text transform="translate(980.58,1289.60) scale(0.880,1)">W</text>
<text transform="translate(1007.51,1289.60) scale(0.850,1)">)</text>
<text transform="translate(1027.94,1289.60) scale(0.900,1)">A</text>
<text transform="translate(1046.67,1289.60) scale(0.900,1)">U</text>
<text transform="translate(1066.28,1289.60) scale(0.900,1)">X</text>
<text transform="translate(1083.86,1289.60) scale(1.000,1)">I</text>
<text transform="translate(1090.86,1289.60) scale(0.900,1)">L</text>
<text transform="translate(1105.34,1289.60) scale(1.000,1)">I</text>
<text transform="translate(1114.36,1289.60) scale(0.900,1)">A</text>
<text transform="translate(1132.96,1289.60) scale(0.900,1)">R</text>
<text transform="translate(1153.33,1289.60) scale(0.900,1)">Y</text>
<text transform="translate(1183.05,1289.60) scale(0.900,1)">T</text>
<text transform="translate(1199.69,1289.60) scale(0.900,1)">E</text>
<text transform="translate(1217.28,1289.60) scale(0.900,1)">R</text>
<text transform="translate(1236.25,1289.60) scale(0.850,1)">M</text>
<text transform="translate(1255.44,1289.60) scale(1.000,1)">I</text>
<text transform="translate(1262.43,1289.60) scale(0.900,1)">N</text>
<text transform="translate(1282.42,1289.60) scale(0.900,1)">A</text>
<text transform="translate(1301.02,1289.60) scale(0.900,1)">L</text>
<text transform="translate(1326.13,1289.60) scale(0.900,1)">F</text>
<text transform="translate(1343.21,1289.60) scale(0.900,1)">O</text>
<text transform="translate(1363.46,1289.60) scale(0.900,1)">R</text>
<text transform="translate(1393.24,1289.60) scale(0.900,1)">C</text>
<text transform="translate(1411.83,1289.60) scale(1.000,1)">I</text>
<text transform="translate(1418.82,1289.60) scale(0.900,1)">R</text>
<text transform="translate(1438.50,1289.60) scale(0.900,1)">C</text>
<text transform="translate(1457.73,1289.60) scale(0.900,1)">U</text>
<text transform="translate(1475.32,1289.60) scale(1.000,1)">I</text>
<text transform="translate(1483.83,1289.60) scale(0.900,1)">T</text>
<text transform="translate(1511.40,1289.60) scale(0.900,1)">C</text>
<text transform="translate(1531.39,1289.60) scale(0.900,1)">O</text>
<text transform="translate(1551.63,1289.60) scale(0.900,1)">N</text>
<text transform="translate(1569.60,1289.60) scale(0.900,1)">N</text>
<text transform="translate(1587.57,1289.60) scale(0.900,1)">E</text>
<text transform="translate(1605.98,1289.60) scale(0.900,1)">C</text>
<text transform="translate(1626.60,1289.60) scale(0.900,1)">T</text>
<text transform="translate(1642.73,1289.60) scale(1.000,1)">I</text>
<text transform="translate(1650.61,1289.60) scale(0.900,1)">O</text>
<text transform="translate(1670.86,1289.60) scale(0.900,1)">N</text>
<text transform="translate(1689.77,1289.60) scale(0.900,1)">S</text>
</g>
<text transform="translate(874.29,1451.80) scale(0.9466,1)" x="0.0 19.8 34.4 50.7 68.8 83.4 98.0 109.2" y="0" font-family="Liberation Serif" font-weight="bold" font-size="30.99" fill="#383838" stroke="#383838" stroke-width="0.9" stroke-linejoin="round">Property</text>
<text transform="translate(1002.88,1452.10) scale(0.9620,1)" x="-0.0 16.3" y="0" font-family="Liberation Serif" font-weight="bold" font-size="30.99" fill="#383838" stroke="#383838" stroke-width="0.9" stroke-linejoin="round">of</text>
<text transform="translate(1041.75,1452.40) scale(0.9667,1)" x="0.0 11.1 29.2" y="0" font-family="Liberation Serif" font-weight="bold" font-size="30.99" fill="#383838" stroke="#383838" stroke-width="0.9" stroke-linejoin="round">the</text>
<text transform="translate(1093.37,1452.80) scale(0.9316,1)" x="-0.0 31.9 46.5 59.4 70.6 85.2 99.8" y="0" font-family="Liberation Serif" font-weight="bold" font-size="30.99" fill="#383838" stroke="#383838" stroke-width="0.9" stroke-linejoin="round">Western</text>
<text transform="translate(1215.59,1453.30) scale(0.9425,1)" x="0.0 21.5 31.0 45.6 60.2 71.4 86.0 95.4" y="0" font-family="Liberation Serif" font-weight="bold" font-size="30.99" fill="#383838" stroke="#383838" stroke-width="0.9" stroke-linejoin="round">Electric</text>
<text transform="translate(1329.84,1453.70) scale(0.9212,1)" x="0.0 23.3 39.6 66.3 84.4 100.8 118.9 135.2" y="0" font-family="Liberation Serif" font-weight="bold" font-size="30.99" fill="#383838" stroke="#383838" stroke-width="0.9" stroke-linejoin="round">Company,</text>
<text transform="translate(1472.92,1454.00) scale(0.9695,1)" x="0.0 12.9 30.9 45.5" y="0" font-family="Liberation Serif" font-weight="bold" font-size="30.99" fill="#383838" stroke="#383838" stroke-width="0.9" stroke-linejoin="round">Inc.</text>
<text transform="translate(2075.18,1460.60) scale(0.9647,1)" x="-0.0 19.7 34.2 43.6 61.6 72.7 87.2" y="0" font-family="Liberation Serif" font-weight="bold" font-size="30.84" fill="#383838" stroke="#383838" stroke-width="0.9" stroke-linejoin="round">Printed</text>
<text transform="translate(2186.53,1460.80) scale(0.9713,1)" x="0.0 9.4" y="0" font-family="Liberation Serif" font-weight="bold" font-size="30.84" fill="#383838" stroke="#383838" stroke-width="0.9" stroke-linejoin="round">in</text>
<text transform="translate(2223.42,1460.90) scale(1.0091,1)" x="0.0 23.1 31.6 49.5 58.0 81.1" y="0" font-family="Liberation Serif" font-weight="bold" font-size="30.84" fill="#383838" stroke="#383838" stroke-width="0.9" stroke-linejoin="round">U.S.A.</text>
</svg></div></body></html>
